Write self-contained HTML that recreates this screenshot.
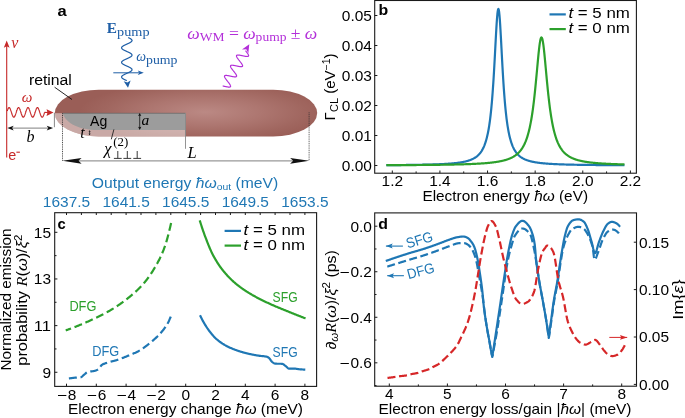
<!DOCTYPE html>
<html><head><meta charset="utf-8"><style>
html,body{margin:0;padding:0;background:#fff;}
svg{display:block;will-change:transform;}
</style></head><body>
<svg width="685" height="418" viewBox="0 0 685 418">
<rect width="685" height="418" fill="#fff"/>
<path d="M386.35 165.14 L386.69 165.14 L387.03 165.14 L387.37 165.14 L387.71 165.13 L388.05 165.13 L388.39 165.13 L388.73 165.13 L389.07 165.12 L389.41 165.12 L389.75 165.12 L390.09 165.12 L390.44 165.12 L390.78 165.11 L391.12 165.11 L391.46 165.11 L391.8 165.11 L392.14 165.1 L392.48 165.1 L392.82 165.1 L393.16 165.1 L393.5 165.09 L393.84 165.09 L394.18 165.09 L394.52 165.08 L394.86 165.08 L395.2 165.08 L395.54 165.08 L395.89 165.07 L396.23 165.07 L396.57 165.07 L396.91 165.06 L397.25 165.06 L397.59 165.06 L397.93 165.06 L398.27 165.05 L398.61 165.05 L398.95 165.05 L399.29 165.04 L399.63 165.04 L399.97 165.04 L400.31 165.03 L400.65 165.03 L400.99 165.03 L401.34 165.02 L401.68 165.02 L402.02 165.02 L402.36 165.01 L402.7 165.01 L403.04 165.01 L403.38 165 L403.72 165 L404.06 165 L404.4 164.99 L404.74 164.99 L405.08 164.99 L405.42 164.98 L405.76 164.98 L406.1 164.97 L406.44 164.97 L406.79 164.97 L407.13 164.96 L407.47 164.96 L407.81 164.95 L408.15 164.95 L408.49 164.95 L408.83 164.94 L409.17 164.94 L409.51 164.93 L409.85 164.93 L410.19 164.92 L410.53 164.92 L410.87 164.92 L411.21 164.91 L411.55 164.91 L411.89 164.9 L412.24 164.9 L412.58 164.89 L412.92 164.89 L413.26 164.88 L413.6 164.88 L413.94 164.87 L414.28 164.87 L414.62 164.86 L414.96 164.86 L415.3 164.85 L415.64 164.85 L415.98 164.84 L416.32 164.84 L416.66 164.83 L417 164.82 L417.34 164.82 L417.69 164.81 L418.03 164.81 L418.37 164.8 L418.71 164.8 L419.05 164.79 L419.39 164.78 L419.73 164.78 L420.07 164.77 L420.41 164.76 L420.75 164.76 L421.09 164.75 L421.43 164.74 L421.77 164.74 L422.11 164.73 L422.45 164.72 L422.79 164.72 L423.14 164.71 L423.48 164.7 L423.82 164.7 L424.16 164.69 L424.5 164.68 L424.84 164.67 L425.18 164.67 L425.52 164.66 L425.86 164.65 L426.2 164.64 L426.54 164.63 L426.88 164.63 L427.22 164.62 L427.56 164.61 L427.9 164.6 L428.24 164.59 L428.59 164.58 L428.93 164.57 L429.27 164.56 L429.61 164.56 L429.95 164.55 L430.29 164.54 L430.63 164.53 L430.97 164.52 L431.31 164.51 L431.65 164.5 L431.99 164.49 L432.33 164.48 L432.67 164.47 L433.01 164.45 L433.35 164.44 L433.69 164.43 L434.04 164.42 L434.38 164.41 L434.72 164.4 L435.06 164.39 L435.4 164.37 L435.74 164.36 L436.08 164.35 L436.42 164.34 L436.76 164.32 L437.1 164.31 L437.44 164.3 L437.78 164.29 L438.12 164.27 L438.46 164.26 L438.8 164.24 L439.15 164.23 L439.49 164.21 L439.83 164.2 L440.17 164.18 L440.51 164.17 L440.85 164.15 L441.19 164.14 L441.53 164.12 L441.87 164.1 L442.21 164.09 L442.55 164.07 L442.89 164.05 L443.23 164.04 L443.57 164.02 L443.91 164 L444.25 163.98 L444.6 163.96 L444.94 163.94 L445.28 163.92 L445.62 163.9 L445.96 163.88 L446.3 163.86 L446.64 163.84 L446.98 163.82 L447.32 163.79 L447.66 163.77 L448 163.75 L448.34 163.72 L448.68 163.7 L449.02 163.68 L449.36 163.65 L449.7 163.63 L450.05 163.6 L450.39 163.57 L450.73 163.54 L451.07 163.52 L451.41 163.49 L451.75 163.46 L452.09 163.43 L452.43 163.4 L452.77 163.37 L453.11 163.34 L453.45 163.3 L453.79 163.27 L454.13 163.24 L454.47 163.2 L454.81 163.17 L455.15 163.13 L455.5 163.09 L455.84 163.05 L456.18 163.02 L456.52 162.98 L456.86 162.94 L457.2 162.89 L457.54 162.85 L457.88 162.81 L458.22 162.76 L458.56 162.71 L458.9 162.67 L459.24 162.62 L459.58 162.57 L459.92 162.52 L460.26 162.47 L460.6 162.41 L460.95 162.36 L461.29 162.3 L461.63 162.24 L461.97 162.18 L462.31 162.12 L462.65 162.06 L462.99 161.99 L463.33 161.92 L463.67 161.85 L464.01 161.78 L464.35 161.71 L464.69 161.64 L465.03 161.56 L465.37 161.48 L465.71 161.4 L466.05 161.31 L466.4 161.22 L466.74 161.13 L467.08 161.04 L467.42 160.95 L467.76 160.85 L468.1 160.75 L468.44 160.64 L468.78 160.53 L469.12 160.42 L469.46 160.3 L469.8 160.18 L470.14 160.06 L470.48 159.93 L470.82 159.79 L471.16 159.66 L471.5 159.51 L471.85 159.36 L472.19 159.21 L472.53 159.05 L472.87 158.88 L473.21 158.71 L473.55 158.53 L473.89 158.35 L474.23 158.15 L474.57 157.95 L474.91 157.74 L475.25 157.52 L475.59 157.29 L475.93 157.06 L476.27 156.81 L476.61 156.55 L476.95 156.28 L477.3 156 L477.64 155.7 L477.98 155.39 L478.32 155.07 L478.66 154.73 L479 154.38 L479.34 154.01 L479.68 153.61 L480.02 153.2 L480.36 152.77 L480.7 152.32 L481.04 151.84 L481.38 151.34 L481.72 150.81 L482.06 150.25 L482.41 149.66 L482.75 149.03 L483.09 148.37 L483.43 147.67 L483.77 146.93 L484.11 146.14 L484.45 145.31 L484.79 144.42 L485.13 143.48 L485.47 142.47 L485.81 141.4 L486.15 140.26 L486.49 139.04 L486.83 137.74 L487.17 136.34 L487.51 134.85 L487.86 133.24 L488.2 131.53 L488.54 129.68 L488.88 127.7 L489.22 125.56 L489.56 123.26 L489.9 120.79 L490.24 118.12 L490.58 115.25 L490.92 112.15 L491.26 108.81 L491.6 105.22 L491.94 101.35 L492.28 97.19 L492.62 92.73 L492.96 87.95 L493.31 82.86 L493.65 77.46 L493.99 71.76 L494.33 65.79 L494.67 59.58 L495.01 53.21 L495.35 46.75 L495.69 40.32 L496.03 34.05 L496.37 28.1 L496.71 22.65 L497.05 17.88 L497.39 13.98 L497.73 11.1 L498.07 9.39 L498.41 8.91 L498.76 9.69 L499.1 11.7 L499.44 14.83 L499.78 18.96 L500.12 23.91 L500.46 29.5 L500.8 35.54 L501.14 41.86 L501.48 48.31 L501.82 54.76 L502.16 61.1 L502.5 67.25 L502.84 73.16 L503.18 78.79 L503.52 84.12 L503.86 89.13 L504.21 93.83 L504.55 98.22 L504.89 102.3 L505.23 106.11 L505.57 109.64 L505.91 112.92 L506.25 115.96 L506.59 118.78 L506.93 121.4 L507.27 123.83 L507.61 126.09 L507.95 128.19 L508.29 130.14 L508.63 131.95 L508.97 133.64 L509.31 135.22 L509.66 136.69 L510 138.06 L510.34 139.34 L510.68 140.54 L511.02 141.67 L511.36 142.72 L511.7 143.71 L512.04 144.64 L512.38 145.52 L512.72 146.34 L513.06 147.11 L513.4 147.84 L513.74 148.53 L514.08 149.19 L514.42 149.8 L514.76 150.39 L515.11 150.94 L515.45 151.46 L515.79 151.96 L516.13 152.43 L516.47 152.88 L516.81 153.31 L517.15 153.71 L517.49 154.1 L517.83 154.46 L518.17 154.82 L518.51 155.15 L518.85 155.47 L519.19 155.77 L519.53 156.07 L519.87 156.35 L520.21 156.61 L520.56 156.87 L520.9 157.11 L521.24 157.35 L521.58 157.57 L521.92 157.79 L522.26 158 L522.6 158.2 L522.94 158.39 L523.28 158.58 L523.62 158.75 L523.96 158.92 L524.3 159.09 L524.64 159.25 L524.98 159.4 L525.32 159.55 L525.66 159.69 L526.01 159.83 L526.35 159.96 L526.69 160.09 L527.03 160.21 L527.37 160.33 L527.71 160.45 L528.05 160.56 L528.39 160.67 L528.73 160.77 L529.07 160.87 L529.41 160.97 L529.75 161.06 L530.09 161.16 L530.43 161.25 L530.77 161.33 L531.12 161.42 L531.46 161.5 L531.8 161.58 L532.14 161.65 L532.48 161.73 L532.82 161.8 L533.16 161.87 L533.5 161.94 L533.84 162.01 L534.18 162.07 L534.52 162.13 L534.86 162.2 L535.2 162.26 L535.54 162.31 L535.88 162.37 L536.22 162.42 L536.57 162.48 L536.91 162.53 L537.25 162.58 L537.59 162.63 L537.93 162.68 L538.27 162.73 L538.61 162.77 L538.95 162.82 L539.29 162.86 L539.63 162.9 L539.97 162.95 L540.31 162.99 L540.65 163.03 L540.99 163.06 L541.33 163.1 L541.67 163.14 L542.02 163.18 L542.36 163.21 L542.7 163.25 L543.04 163.28 L543.38 163.31 L543.72 163.34 L544.06 163.38 L544.4 163.41 L544.74 163.44 L545.08 163.47 L545.42 163.5 L545.76 163.52 L546.1 163.55 L546.44 163.58 L546.78 163.61 L547.12 163.63 L547.47 163.66 L547.81 163.68 L548.15 163.71 L548.49 163.73 L548.83 163.75 L549.17 163.78 L549.51 163.8 L549.85 163.82 L550.19 163.84 L550.53 163.87 L550.87 163.89 L551.21 163.91 L551.55 163.93 L551.89 163.95 L552.23 163.97 L552.57 163.98 L552.92 164 L553.26 164.02 L553.6 164.04 L553.94 164.06 L554.28 164.07 L554.62 164.09 L554.96 164.11 L555.3 164.13 L555.64 164.14 L555.98 164.16 L556.32 164.17 L556.66 164.19 L557 164.2 L557.34 164.22 L557.68 164.23 L558.02 164.25 L558.37 164.26 L558.71 164.27 L559.05 164.29 L559.39 164.3 L559.73 164.32 L560.07 164.33 L560.41 164.34 L560.75 164.35 L561.09 164.37 L561.43 164.38 L561.77 164.39 L562.11 164.4 L562.45 164.41 L562.79 164.42 L563.13 164.44 L563.47 164.45 L563.82 164.46 L564.16 164.47 L564.5 164.48 L564.84 164.49 L565.18 164.5 L565.52 164.51 L565.86 164.52 L566.2 164.53 L566.54 164.54 L566.88 164.55 L567.22 164.56 L567.56 164.57 L567.9 164.58 L568.24 164.58 L568.58 164.59 L568.92 164.6 L569.27 164.61 L569.61 164.62 L569.95 164.63 L570.29 164.64 L570.63 164.64 L570.97 164.65 L571.31 164.66 L571.65 164.67 L571.99 164.68 L572.33 164.68 L572.67 164.69 L573.01 164.7 L573.35 164.7 L573.69 164.71 L574.03 164.72 L574.37 164.73 L574.72 164.73 L575.06 164.74 L575.4 164.75 L575.74 164.75 L576.08 164.76 L576.42 164.77 L576.76 164.77 L577.1 164.78 L577.44 164.78 L577.78 164.79 L578.12 164.8 L578.46 164.8 L578.8 164.81 L579.14 164.81 L579.48 164.82 L579.83 164.83 L580.17 164.83 L580.51 164.84 L580.85 164.84 L581.19 164.85 L581.53 164.85 L581.87 164.86 L582.21 164.86 L582.55 164.87 L582.89 164.87 L583.23 164.88 L583.57 164.88 L583.91 164.89 L584.25 164.89 L584.59 164.9 L584.93 164.9 L585.28 164.91 L585.62 164.91 L585.96 164.92 L586.3 164.92 L586.64 164.93 L586.98 164.93 L587.32 164.93 L587.66 164.94 L588 164.94 L588.34 164.95 L588.68 164.95 L589.02 164.95 L589.36 164.96 L589.7 164.96 L590.04 164.97 L590.38 164.97 L590.73 164.97 L591.07 164.98 L591.41 164.98 L591.75 164.99 L592.09 164.99 L592.43 164.99 L592.77 165 L593.11 165 L593.45 165 L593.79 165.01 L594.13 165.01 L594.47 165.01 L594.81 165.02 L595.15 165.02 L595.49 165.02 L595.83 165.03 L596.18 165.03 L596.52 165.03 L596.86 165.04 L597.2 165.04 L597.54 165.04 L597.88 165.05 L598.22 165.05 L598.56 165.05 L598.9 165.06 L599.24 165.06 L599.58 165.06 L599.92 165.07 L600.26 165.07 L600.6 165.07 L600.94 165.07 L601.28 165.08 L601.63 165.08 L601.97 165.08 L602.31 165.09 L602.65 165.09 L602.99 165.09 L603.33 165.09 L603.67 165.1 L604.01 165.1 L604.35 165.1 L604.69 165.1 L605.03 165.11 L605.37 165.11 L605.71 165.11 L606.05 165.11 L606.39 165.12 L606.73 165.12 L607.08 165.12 L607.42 165.12 L607.76 165.13 L608.1 165.13 L608.44 165.13 L608.78 165.13 L609.12 165.13 L609.46 165.14 L609.8 165.14 L610.14 165.14 L610.48 165.14 L610.82 165.15 L611.16 165.15 L611.5 165.15 L611.84 165.15 L612.18 165.15 L612.53 165.16 L612.87 165.16 L613.21 165.16 L613.55 165.16 L613.89 165.16 L614.23 165.17 L614.57 165.17 L614.91 165.17 L615.25 165.17 L615.59 165.17 L615.93 165.18 L616.27 165.18 L616.61 165.18 L616.95 165.18 L617.29 165.18 L617.63 165.18 L617.98 165.19 L618.32 165.19 L618.66 165.19 L619 165.19 L619.34 165.19 L619.68 165.2 L620.02 165.2 L620.36 165.2 L620.7 165.2 L621.04 165.2 L621.38 165.2 L621.72 165.21 L622.06 165.21 L622.4 165.21 L622.74 165.21 L623.08 165.21 L623.43 165.21 L623.77 165.21 L624.11 165.22 L624.45 165.22" fill="none" stroke="#1f77b4" stroke-width="2.2" stroke-linejoin="round"/>
<path d="M386.35 165.19 L386.69 165.19 L387.03 165.19 L387.37 165.19 L387.71 165.19 L388.05 165.18 L388.39 165.18 L388.73 165.18 L389.07 165.18 L389.41 165.18 L389.75 165.18 L390.09 165.18 L390.44 165.17 L390.78 165.17 L391.12 165.17 L391.46 165.17 L391.8 165.17 L392.14 165.17 L392.48 165.17 L392.82 165.16 L393.16 165.16 L393.5 165.16 L393.84 165.16 L394.18 165.16 L394.52 165.16 L394.86 165.15 L395.2 165.15 L395.54 165.15 L395.89 165.15 L396.23 165.15 L396.57 165.15 L396.91 165.15 L397.25 165.14 L397.59 165.14 L397.93 165.14 L398.27 165.14 L398.61 165.14 L398.95 165.13 L399.29 165.13 L399.63 165.13 L399.97 165.13 L400.31 165.13 L400.65 165.13 L400.99 165.12 L401.34 165.12 L401.68 165.12 L402.02 165.12 L402.36 165.12 L402.7 165.12 L403.04 165.11 L403.38 165.11 L403.72 165.11 L404.06 165.11 L404.4 165.11 L404.74 165.1 L405.08 165.1 L405.42 165.1 L405.76 165.1 L406.1 165.1 L406.44 165.09 L406.79 165.09 L407.13 165.09 L407.47 165.09 L407.81 165.09 L408.15 165.08 L408.49 165.08 L408.83 165.08 L409.17 165.08 L409.51 165.07 L409.85 165.07 L410.19 165.07 L410.53 165.07 L410.87 165.07 L411.21 165.06 L411.55 165.06 L411.89 165.06 L412.24 165.06 L412.58 165.05 L412.92 165.05 L413.26 165.05 L413.6 165.05 L413.94 165.04 L414.28 165.04 L414.62 165.04 L414.96 165.04 L415.3 165.03 L415.64 165.03 L415.98 165.03 L416.32 165.03 L416.66 165.02 L417 165.02 L417.34 165.02 L417.69 165.02 L418.03 165.01 L418.37 165.01 L418.71 165.01 L419.05 165.01 L419.39 165 L419.73 165 L420.07 165 L420.41 164.99 L420.75 164.99 L421.09 164.99 L421.43 164.99 L421.77 164.98 L422.11 164.98 L422.45 164.98 L422.79 164.97 L423.14 164.97 L423.48 164.97 L423.82 164.97 L424.16 164.96 L424.5 164.96 L424.84 164.96 L425.18 164.95 L425.52 164.95 L425.86 164.95 L426.2 164.94 L426.54 164.94 L426.88 164.94 L427.22 164.93 L427.56 164.93 L427.9 164.93 L428.24 164.92 L428.59 164.92 L428.93 164.92 L429.27 164.91 L429.61 164.91 L429.95 164.9 L430.29 164.9 L430.63 164.9 L430.97 164.89 L431.31 164.89 L431.65 164.89 L431.99 164.88 L432.33 164.88 L432.67 164.87 L433.01 164.87 L433.35 164.87 L433.69 164.86 L434.04 164.86 L434.38 164.85 L434.72 164.85 L435.06 164.85 L435.4 164.84 L435.74 164.84 L436.08 164.83 L436.42 164.83 L436.76 164.83 L437.1 164.82 L437.44 164.82 L437.78 164.81 L438.12 164.81 L438.46 164.8 L438.8 164.8 L439.15 164.79 L439.49 164.79 L439.83 164.78 L440.17 164.78 L440.51 164.77 L440.85 164.77 L441.19 164.76 L441.53 164.76 L441.87 164.75 L442.21 164.75 L442.55 164.74 L442.89 164.74 L443.23 164.73 L443.57 164.73 L443.91 164.72 L444.25 164.72 L444.6 164.71 L444.94 164.71 L445.28 164.7 L445.62 164.7 L445.96 164.69 L446.3 164.68 L446.64 164.68 L446.98 164.67 L447.32 164.67 L447.66 164.66 L448 164.65 L448.34 164.65 L448.68 164.64 L449.02 164.64 L449.36 164.63 L449.7 164.62 L450.05 164.62 L450.39 164.61 L450.73 164.6 L451.07 164.6 L451.41 164.59 L451.75 164.58 L452.09 164.58 L452.43 164.57 L452.77 164.56 L453.11 164.55 L453.45 164.55 L453.79 164.54 L454.13 164.53 L454.47 164.52 L454.81 164.52 L455.15 164.51 L455.5 164.5 L455.84 164.49 L456.18 164.49 L456.52 164.48 L456.86 164.47 L457.2 164.46 L457.54 164.45 L457.88 164.44 L458.22 164.44 L458.56 164.43 L458.9 164.42 L459.24 164.41 L459.58 164.4 L459.92 164.39 L460.26 164.38 L460.6 164.37 L460.95 164.36 L461.29 164.35 L461.63 164.34 L461.97 164.33 L462.31 164.32 L462.65 164.31 L462.99 164.3 L463.33 164.29 L463.67 164.28 L464.01 164.27 L464.35 164.26 L464.69 164.25 L465.03 164.24 L465.37 164.23 L465.71 164.22 L466.05 164.21 L466.4 164.19 L466.74 164.18 L467.08 164.17 L467.42 164.16 L467.76 164.15 L468.1 164.13 L468.44 164.12 L468.78 164.11 L469.12 164.09 L469.46 164.08 L469.8 164.07 L470.14 164.05 L470.48 164.04 L470.82 164.03 L471.16 164.01 L471.5 164 L471.85 163.98 L472.19 163.97 L472.53 163.95 L472.87 163.94 L473.21 163.92 L473.55 163.91 L473.89 163.89 L474.23 163.88 L474.57 163.86 L474.91 163.84 L475.25 163.83 L475.59 163.81 L475.93 163.79 L476.27 163.77 L476.61 163.76 L476.95 163.74 L477.3 163.72 L477.64 163.7 L477.98 163.68 L478.32 163.66 L478.66 163.64 L479 163.62 L479.34 163.6 L479.68 163.58 L480.02 163.56 L480.36 163.54 L480.7 163.52 L481.04 163.5 L481.38 163.47 L481.72 163.45 L482.06 163.43 L482.41 163.4 L482.75 163.38 L483.09 163.35 L483.43 163.33 L483.77 163.3 L484.11 163.28 L484.45 163.25 L484.79 163.23 L485.13 163.2 L485.47 163.17 L485.81 163.14 L486.15 163.12 L486.49 163.09 L486.83 163.06 L487.17 163.03 L487.51 163 L487.86 162.96 L488.2 162.93 L488.54 162.9 L488.88 162.87 L489.22 162.83 L489.56 162.8 L489.9 162.76 L490.24 162.73 L490.58 162.69 L490.92 162.65 L491.26 162.62 L491.6 162.58 L491.94 162.54 L492.28 162.5 L492.62 162.46 L492.96 162.42 L493.31 162.37 L493.65 162.33 L493.99 162.28 L494.33 162.24 L494.67 162.19 L495.01 162.15 L495.35 162.1 L495.69 162.05 L496.03 162 L496.37 161.95 L496.71 161.89 L497.05 161.84 L497.39 161.78 L497.73 161.73 L498.07 161.67 L498.41 161.61 L498.76 161.55 L499.1 161.49 L499.44 161.42 L499.78 161.36 L500.12 161.29 L500.46 161.23 L500.8 161.16 L501.14 161.09 L501.48 161.01 L501.82 160.94 L502.16 160.86 L502.5 160.78 L502.84 160.7 L503.18 160.62 L503.52 160.54 L503.86 160.45 L504.21 160.36 L504.55 160.27 L504.89 160.17 L505.23 160.08 L505.57 159.98 L505.91 159.88 L506.25 159.77 L506.59 159.67 L506.93 159.56 L507.27 159.44 L507.61 159.33 L507.95 159.21 L508.29 159.08 L508.63 158.96 L508.97 158.82 L509.31 158.69 L509.66 158.55 L510 158.41 L510.34 158.26 L510.68 158.11 L511.02 157.95 L511.36 157.79 L511.7 157.63 L512.04 157.45 L512.38 157.28 L512.72 157.09 L513.06 156.9 L513.4 156.71 L513.74 156.51 L514.08 156.3 L514.42 156.08 L514.76 155.86 L515.11 155.63 L515.45 155.39 L515.79 155.14 L516.13 154.88 L516.47 154.61 L516.81 154.34 L517.15 154.05 L517.49 153.75 L517.83 153.44 L518.17 153.12 L518.51 152.79 L518.85 152.44 L519.19 152.08 L519.53 151.71 L519.87 151.32 L520.21 150.91 L520.56 150.49 L520.9 150.05 L521.24 149.59 L521.58 149.11 L521.92 148.61 L522.26 148.09 L522.6 147.54 L522.94 146.97 L523.28 146.38 L523.62 145.75 L523.96 145.1 L524.3 144.42 L524.64 143.7 L524.98 142.95 L525.32 142.17 L525.66 141.34 L526.01 140.48 L526.35 139.57 L526.69 138.61 L527.03 137.61 L527.37 136.55 L527.71 135.44 L528.05 134.27 L528.39 133.04 L528.73 131.75 L529.07 130.38 L529.41 128.95 L529.75 127.43 L530.09 125.83 L530.43 124.15 L530.77 122.38 L531.12 120.5 L531.46 118.53 L531.8 116.46 L532.14 114.27 L532.48 111.97 L532.82 109.54 L533.16 107 L533.5 104.33 L533.84 101.54 L534.18 98.61 L534.52 95.56 L534.86 92.39 L535.2 89.09 L535.54 85.69 L535.88 82.18 L536.22 78.59 L536.57 74.93 L536.91 71.23 L537.25 67.51 L537.59 63.81 L537.93 60.16 L538.27 56.62 L538.61 53.23 L538.95 50.03 L539.29 47.09 L539.63 44.45 L539.97 42.17 L540.31 40.29 L540.65 38.86 L540.99 37.9 L541.33 37.44 L541.67 37.49 L542.02 38.05 L542.36 39.11 L542.7 40.64 L543.04 42.6 L543.38 44.96 L543.72 47.66 L544.06 50.66 L544.4 53.9 L544.74 57.33 L545.08 60.9 L545.42 64.56 L545.76 68.26 L546.1 71.98 L546.44 75.68 L546.78 79.32 L547.12 82.9 L547.47 86.39 L547.81 89.77 L548.15 93.04 L548.49 96.19 L548.83 99.22 L549.17 102.12 L549.51 104.88 L549.85 107.53 L550.19 110.05 L550.53 112.44 L550.87 114.72 L551.21 116.89 L551.55 118.94 L551.89 120.89 L552.23 122.74 L552.57 124.5 L552.92 126.17 L553.26 127.75 L553.6 129.24 L553.94 130.67 L554.28 132.02 L554.62 133.3 L554.96 134.52 L555.3 135.67 L555.64 136.77 L555.98 137.82 L556.32 138.81 L556.66 139.76 L557 140.66 L557.34 141.51 L557.68 142.33 L558.02 143.11 L558.37 143.85 L558.71 144.56 L559.05 145.24 L559.39 145.88 L559.73 146.5 L560.07 147.09 L560.41 147.66 L560.75 148.2 L561.09 148.71 L561.43 149.21 L561.77 149.69 L562.11 150.14 L562.45 150.58 L562.79 151 L563.13 151.4 L563.47 151.79 L563.82 152.16 L564.16 152.52 L564.5 152.86 L564.84 153.19 L565.18 153.51 L565.52 153.81 L565.86 154.11 L566.2 154.39 L566.54 154.67 L566.88 154.93 L567.22 155.19 L567.56 155.44 L567.9 155.67 L568.24 155.9 L568.58 156.13 L568.92 156.34 L569.27 156.55 L569.61 156.75 L569.95 156.94 L570.29 157.13 L570.63 157.31 L570.97 157.49 L571.31 157.66 L571.65 157.82 L571.99 157.99 L572.33 158.14 L572.67 158.29 L573.01 158.44 L573.35 158.58 L573.69 158.72 L574.03 158.85 L574.37 158.98 L574.72 159.11 L575.06 159.23 L575.4 159.35 L575.74 159.47 L576.08 159.58 L576.42 159.69 L576.76 159.79 L577.1 159.9 L577.44 160 L577.78 160.1 L578.12 160.19 L578.46 160.29 L578.8 160.38 L579.14 160.47 L579.48 160.55 L579.83 160.64 L580.17 160.72 L580.51 160.8 L580.85 160.88 L581.19 160.95 L581.53 161.03 L581.87 161.1 L582.21 161.17 L582.55 161.24 L582.89 161.31 L583.23 161.37 L583.57 161.44 L583.91 161.5 L584.25 161.56 L584.59 161.62 L584.93 161.68 L585.28 161.74 L585.62 161.79 L585.96 161.85 L586.3 161.9 L586.64 161.96 L586.98 162.01 L587.32 162.06 L587.66 162.11 L588 162.15 L588.34 162.2 L588.68 162.25 L589.02 162.29 L589.36 162.34 L589.7 162.38 L590.04 162.42 L590.38 162.47 L590.73 162.51 L591.07 162.55 L591.41 162.59 L591.75 162.62 L592.09 162.66 L592.43 162.7 L592.77 162.74 L593.11 162.77 L593.45 162.81 L593.79 162.84 L594.13 162.87 L594.47 162.91 L594.81 162.94 L595.15 162.97 L595.49 163 L595.83 163.03 L596.18 163.06 L596.52 163.09 L596.86 163.12 L597.2 163.15 L597.54 163.18 L597.88 163.2 L598.22 163.23 L598.56 163.26 L598.9 163.28 L599.24 163.31 L599.58 163.34 L599.92 163.36 L600.26 163.38 L600.6 163.41 L600.94 163.43 L601.28 163.45 L601.63 163.48 L601.97 163.5 L602.31 163.52 L602.65 163.54 L602.99 163.56 L603.33 163.59 L603.67 163.61 L604.01 163.63 L604.35 163.65 L604.69 163.67 L605.03 163.69 L605.37 163.7 L605.71 163.72 L606.05 163.74 L606.39 163.76 L606.73 163.78 L607.08 163.8 L607.42 163.81 L607.76 163.83 L608.1 163.85 L608.44 163.86 L608.78 163.88 L609.12 163.9 L609.46 163.91 L609.8 163.93 L610.14 163.94 L610.48 163.96 L610.82 163.97 L611.16 163.99 L611.5 164 L611.84 164.02 L612.18 164.03 L612.53 164.04 L612.87 164.06 L613.21 164.07 L613.55 164.08 L613.89 164.1 L614.23 164.11 L614.57 164.12 L614.91 164.14 L615.25 164.15 L615.59 164.16 L615.93 164.17 L616.27 164.18 L616.61 164.2 L616.95 164.21 L617.29 164.22 L617.63 164.23 L617.98 164.24 L618.32 164.25 L618.66 164.26 L619 164.27 L619.34 164.29 L619.68 164.3 L620.02 164.31 L620.36 164.32 L620.7 164.33 L621.04 164.34 L621.38 164.35 L621.72 164.36 L622.06 164.37 L622.4 164.37 L622.74 164.38 L623.08 164.39 L623.43 164.4 L623.77 164.41 L624.11 164.42 L624.45 164.43" fill="none" stroke="#2ca02c" stroke-width="2.2" stroke-linejoin="round"/>
<rect x="374.7" y="0.5" width="261.7" height="172.7" fill="none" stroke="#1a1a1a" stroke-width="1.1"/>
<line x1="374.7" y1="165.5" x2="377.4" y2="165.5" stroke="#1a1a1a" stroke-width="1"/>
<text x="371.9" y="170.8" font-size="14.4" fill="#000" text-anchor="end" font-family="Liberation Sans" textLength="30.1" lengthAdjust="spacingAndGlyphs">0.00</text>
<line x1="374.7" y1="135.5" x2="377.4" y2="135.5" stroke="#1a1a1a" stroke-width="1"/>
<text x="371.9" y="140.8" font-size="14.4" fill="#000" text-anchor="end" font-family="Liberation Sans" textLength="30.1" lengthAdjust="spacingAndGlyphs">0.01</text>
<line x1="374.7" y1="105.5" x2="377.4" y2="105.5" stroke="#1a1a1a" stroke-width="1"/>
<text x="371.9" y="110.8" font-size="14.4" fill="#000" text-anchor="end" font-family="Liberation Sans" textLength="30.1" lengthAdjust="spacingAndGlyphs">0.02</text>
<line x1="374.7" y1="75.5" x2="377.4" y2="75.5" stroke="#1a1a1a" stroke-width="1"/>
<text x="371.9" y="80.8" font-size="14.4" fill="#000" text-anchor="end" font-family="Liberation Sans" textLength="30.1" lengthAdjust="spacingAndGlyphs">0.03</text>
<line x1="374.7" y1="45.5" x2="377.4" y2="45.5" stroke="#1a1a1a" stroke-width="1"/>
<text x="371.9" y="50.8" font-size="14.4" fill="#000" text-anchor="end" font-family="Liberation Sans" textLength="30.1" lengthAdjust="spacingAndGlyphs">0.04</text>
<line x1="374.7" y1="15.5" x2="377.4" y2="15.5" stroke="#1a1a1a" stroke-width="1"/>
<text x="371.9" y="20.8" font-size="14.4" fill="#000" text-anchor="end" font-family="Liberation Sans" textLength="30.1" lengthAdjust="spacingAndGlyphs">0.05</text>
<line x1="392.3" y1="173.2" x2="392.3" y2="170.5" stroke="#1a1a1a" stroke-width="1"/>
<text x="392.3" y="186.3" font-size="14.4" fill="#000" text-anchor="middle" font-family="Liberation Sans" textLength="21.5" lengthAdjust="spacingAndGlyphs">1.2</text>
<line x1="416.11" y1="173.2" x2="416.11" y2="171.4" stroke="#1a1a1a" stroke-width="1"/>
<line x1="439.92" y1="173.2" x2="439.92" y2="170.5" stroke="#1a1a1a" stroke-width="1"/>
<text x="439.92" y="186.3" font-size="14.4" fill="#000" text-anchor="middle" font-family="Liberation Sans" textLength="21.5" lengthAdjust="spacingAndGlyphs">1.4</text>
<line x1="463.73" y1="173.2" x2="463.73" y2="171.4" stroke="#1a1a1a" stroke-width="1"/>
<line x1="487.54" y1="173.2" x2="487.54" y2="170.5" stroke="#1a1a1a" stroke-width="1"/>
<text x="487.54" y="186.3" font-size="14.4" fill="#000" text-anchor="middle" font-family="Liberation Sans" textLength="21.5" lengthAdjust="spacingAndGlyphs">1.6</text>
<line x1="511.35" y1="173.2" x2="511.35" y2="171.4" stroke="#1a1a1a" stroke-width="1"/>
<line x1="535.16" y1="173.2" x2="535.16" y2="170.5" stroke="#1a1a1a" stroke-width="1"/>
<text x="535.16" y="186.3" font-size="14.4" fill="#000" text-anchor="middle" font-family="Liberation Sans" textLength="21.5" lengthAdjust="spacingAndGlyphs">1.8</text>
<line x1="558.97" y1="173.2" x2="558.97" y2="171.4" stroke="#1a1a1a" stroke-width="1"/>
<line x1="582.78" y1="173.2" x2="582.78" y2="170.5" stroke="#1a1a1a" stroke-width="1"/>
<text x="582.78" y="186.3" font-size="14.4" fill="#000" text-anchor="middle" font-family="Liberation Sans" textLength="21.5" lengthAdjust="spacingAndGlyphs">2.0</text>
<line x1="606.59" y1="173.2" x2="606.59" y2="171.4" stroke="#1a1a1a" stroke-width="1"/>
<line x1="630.4" y1="173.2" x2="630.4" y2="170.5" stroke="#1a1a1a" stroke-width="1"/>
<text x="630.4" y="186.3" font-size="14.4" fill="#000" text-anchor="middle" font-family="Liberation Sans" textLength="21.5" lengthAdjust="spacingAndGlyphs">2.2</text>
<text x="505.2" y="201" font-size="14.4" fill="#000" text-anchor="middle" font-family="Liberation Sans" textLength="165.6" lengthAdjust="spacingAndGlyphs">Electron energy <tspan font-style="italic">ħω</tspan> (eV)</text>
<line x1="549.5" y1="14.4" x2="565.8" y2="14.4" stroke="#1f77b4" stroke-width="2.2"/>
<line x1="549.5" y1="29.1" x2="565.8" y2="29.1" stroke="#2ca02c" stroke-width="2.2"/>
<text x="568.4" y="18.3" font-size="14.4" fill="#000" text-anchor="start" font-family="Liberation Sans" textLength="61.5" lengthAdjust="spacingAndGlyphs"><tspan font-style="italic">t</tspan> = 5 nm</text>
<text x="568.4" y="33" font-size="14.4" fill="#000" text-anchor="start" font-family="Liberation Sans" textLength="61.5" lengthAdjust="spacingAndGlyphs"><tspan font-style="italic">t</tspan> = 0 nm</text>
<text x="378.5" y="15.4" font-size="14.4" fill="#000" text-anchor="start" font-family="Liberation Sans" textLength="9.7" lengthAdjust="spacingAndGlyphs" font-weight="bold">b</text>
<g transform="translate(335.4,86.9) rotate(-90)">
<text x="0" y="0" font-size="14.4" fill="#000" text-anchor="middle" font-family="Liberation Sans" textLength="67" lengthAdjust="spacingAndGlyphs">Γ<tspan font-size="10.6" dy="2.7">CL</tspan><tspan dy="-2.7"> (eV</tspan><tspan font-size="10" dy="-5.5">−1</tspan><tspan dy="5.5">)</tspan></text>
</g>
<path d="M65.7 330.4 L66.2 330.23 L66.7 330.05 L67.2 329.87 L67.7 329.69 L68.2 329.51 L68.7 329.33 L69.2 329.15 L69.7 328.97 L70.2 328.78 L70.7 328.6 L71.2 328.41 L71.7 328.22 L72.2 328.03 L72.7 327.84 L73.2 327.65 L73.7 327.46 L74.2 327.26 L74.7 327.07 L75.2 326.87 L75.7 326.68 L76.2 326.48 L76.7 326.28 L77.2 326.08 L77.7 325.88 L78.2 325.67 L78.7 325.47 L79.2 325.27 L79.7 325.06 L80.2 324.85 L80.7 324.65 L81.2 324.44 L81.7 324.23 L82.2 324.02 L82.7 323.81 L83.2 323.59 L83.7 323.38 L84.2 323.17 L84.7 322.95 L85.2 322.74 L85.7 322.52 L86.2 322.3 L86.7 322.08 L87.2 321.86 L87.7 321.64 L88.2 321.42 L88.7 321.2 L89.2 320.98 L89.7 320.75 L90.2 320.53 L90.7 320.3 L91.2 320.08 L91.7 319.85 L92.2 319.62 L92.7 319.39 L93.2 319.16 L93.7 318.93 L94.2 318.7 L94.7 318.47 L95.2 318.23 L95.7 317.99 L96.2 317.76 L96.7 317.52 L97.2 317.28 L97.7 317.04 L98.2 316.79 L98.7 316.55 L99.2 316.3 L99.7 316.05 L100.2 315.8 L100.7 315.55 L101.2 315.3 L101.7 315.04 L102.2 314.78 L102.7 314.53 L103.2 314.26 L103.7 314 L104.2 313.74 L104.7 313.47 L105.2 313.2 L105.7 312.93 L106.2 312.66 L106.7 312.38 L107.2 312.1 L107.7 311.82 L108.2 311.54 L108.7 311.26 L109.2 310.97 L109.7 310.68 L110.2 310.39 L110.7 310.09 L111.2 309.8 L111.7 309.5 L112.2 309.19 L112.7 308.89 L113.2 308.58 L113.7 308.27 L114.2 307.95 L114.7 307.64 L115.2 307.32 L115.7 307 L116.2 306.67 L116.7 306.34 L117.2 306.01 L117.7 305.68 L118.2 305.34 L118.7 305 L119.2 304.66 L119.7 304.31 L120.2 303.97 L120.7 303.61 L121.2 303.26 L121.7 302.9 L122.2 302.54 L122.7 302.18 L123.2 301.81 L123.7 301.44 L124.2 301.07 L124.7 300.69 L125.2 300.31 L125.7 299.93 L126.2 299.55 L126.7 299.16 L127.2 298.77 L127.7 298.38 L128.2 297.98 L128.7 297.58 L129.2 297.18 L129.7 296.78 L130.2 296.37 L130.7 295.96 L131.2 295.55 L131.7 295.13 L132.2 294.71 L132.7 294.29 L133.2 293.86 L133.7 293.42 L134.2 292.98 L134.7 292.54 L135.2 292.09 L135.7 291.63 L136.2 291.17 L136.7 290.7 L137.2 290.23 L137.7 289.75 L138.2 289.27 L138.7 288.77 L139.2 288.27 L139.7 287.77 L140.2 287.25 L140.7 286.73 L141.2 286.21 L141.7 285.67 L142.2 285.13 L142.7 284.57 L143.2 284.01 L143.7 283.44 L144.2 282.86 L144.7 282.26 L145.2 281.66 L145.7 281.04 L146.2 280.4 L146.7 279.76 L147.2 279.1 L147.7 278.43 L148.2 277.75 L148.7 277.06 L149.2 276.35 L149.7 275.63 L150.2 274.9 L150.7 274.16 L151.2 273.4 L151.7 272.64 L152.2 271.86 L152.7 271.07 L153.2 270.26 L153.7 269.45 L154.2 268.62 L154.7 267.79 L155.2 266.94 L155.7 266.07 L156.2 265.2 L156.7 264.31 L157.2 263.42 L157.7 262.5 L158.2 261.57 L158.7 260.62 L159.2 259.65 L159.7 258.65 L160.2 257.63 L160.7 256.57 L161.2 255.49 L161.7 254.38 L162.2 253.23 L162.7 252.04 L163.2 250.81 L163.7 249.55 L164.2 248.23 L164.7 246.88 L165.2 245.46 L165.7 243.94 L166.2 242.34 L166.7 240.65 L167.2 238.88 L167.7 237.03 L168.2 235.12 L168.7 233.15 L169.2 231.12 L169.7 229.04 L170.2 226.92 L170.7 224.76 L171.1 223" fill="none" stroke="#2ca02c" stroke-width="2.2" stroke-linejoin="round" stroke-dasharray="8 3.81" stroke-dashoffset="2.4"/>
<path d="M199.7 220.3 L200.2 221.9 L200.7 223.47 L201.2 225.03 L201.7 226.57 L202.2 228.09 L202.7 229.58 L203.2 231.04 L203.7 232.48 L204.2 233.88 L204.7 235.26 L205.2 236.61 L205.7 237.92 L206.2 239.23 L206.7 240.52 L207.2 241.8 L207.7 243.07 L208.2 244.32 L208.7 245.55 L209.2 246.76 L209.7 247.95 L210.2 249.12 L210.7 250.25 L211.2 251.36 L211.7 252.43 L212.2 253.47 L212.7 254.47 L213.2 255.43 L213.7 256.35 L214.2 257.25 L214.7 258.14 L215.2 259.01 L215.7 259.86 L216.2 260.69 L216.7 261.51 L217.2 262.31 L217.7 263.09 L218.2 263.86 L218.7 264.62 L219.2 265.35 L219.7 266.08 L220.2 266.79 L220.7 267.48 L221.2 268.16 L221.7 268.83 L222.2 269.48 L222.7 270.12 L223.2 270.74 L223.7 271.36 L224.2 271.96 L224.7 272.55 L225.2 273.14 L225.7 273.71 L226.2 274.28 L226.7 274.84 L227.2 275.39 L227.7 275.93 L228.2 276.46 L228.7 276.99 L229.2 277.5 L229.7 278.01 L230.2 278.51 L230.7 279.01 L231.2 279.49 L231.7 279.97 L232.2 280.44 L232.7 280.91 L233.2 281.36 L233.7 281.82 L234.2 282.26 L234.7 282.69 L235.2 283.12 L235.7 283.55 L236.2 283.97 L236.7 284.38 L237.2 284.78 L237.7 285.18 L238.2 285.57 L238.7 285.96 L239.2 286.34 L239.7 286.72 L240.2 287.1 L240.7 287.46 L241.2 287.83 L241.7 288.19 L242.2 288.54 L242.7 288.89 L243.2 289.24 L243.7 289.58 L244.2 289.92 L244.7 290.26 L245.2 290.59 L245.7 290.91 L246.2 291.24 L246.7 291.56 L247.2 291.88 L247.7 292.19 L248.2 292.5 L248.7 292.81 L249.2 293.11 L249.7 293.42 L250.2 293.72 L250.7 294.02 L251.2 294.31 L251.7 294.6 L252.2 294.9 L252.7 295.18 L253.2 295.47 L253.7 295.76 L254.2 296.04 L254.7 296.32 L255.2 296.59 L255.7 296.87 L256.2 297.14 L256.7 297.41 L257.2 297.67 L257.7 297.94 L258.2 298.2 L258.7 298.46 L259.2 298.72 L259.7 298.98 L260.2 299.23 L260.7 299.48 L261.2 299.73 L261.7 299.98 L262.2 300.23 L262.7 300.47 L263.2 300.72 L263.7 300.96 L264.2 301.2 L264.7 301.44 L265.2 301.68 L265.7 301.91 L266.2 302.15 L266.7 302.38 L267.2 302.62 L267.7 302.85 L268.2 303.08 L268.7 303.31 L269.2 303.54 L269.7 303.77 L270.2 304 L270.7 304.23 L271.2 304.45 L271.7 304.68 L272.2 304.91 L272.7 305.13 L273.2 305.35 L273.7 305.57 L274.2 305.79 L274.7 306 L275.2 306.22 L275.7 306.43 L276.2 306.64 L276.7 306.85 L277.2 307.06 L277.7 307.27 L278.2 307.48 L278.7 307.69 L279.2 307.89 L279.7 308.1 L280.2 308.3 L280.7 308.51 L281.2 308.71 L281.7 308.91 L282.2 309.12 L282.7 309.32 L283.2 309.52 L283.7 309.72 L284.2 309.92 L284.7 310.13 L285.2 310.33 L285.7 310.53 L286.2 310.73 L286.7 310.94 L287.2 311.14 L287.7 311.34 L288.2 311.55 L288.7 311.75 L289.2 311.95 L289.7 312.16 L290.2 312.36 L290.7 312.56 L291.2 312.76 L291.7 312.96 L292.2 313.16 L292.7 313.36 L293.2 313.56 L293.7 313.76 L294.2 313.96 L294.7 314.16 L295.2 314.36 L295.7 314.56 L296.2 314.76 L296.7 314.96 L297.2 315.16 L297.7 315.35 L298.2 315.55 L298.7 315.75 L299.2 315.95 L299.7 316.14 L300.2 316.34 L300.7 316.53 L301.2 316.73 L301.7 316.93 L302.2 317.12 L302.7 317.32 L303.2 317.51 L303.7 317.7 L304.2 317.9 L304.7 318.09 L305.2 318.28 L305.5 318.4" fill="none" stroke="#2ca02c" stroke-width="2.2" stroke-linejoin="round"/>
<path d="M68.9 378.5 L69.4 378.42 L69.9 378.34 L70.4 378.27 L70.9 378.2 L71.4 378.13 L71.9 378.06 L72.4 377.99 L72.9 377.93 L73.4 377.87 L73.9 377.82 L74.4 377.76 L74.9 377.71 L75.4 377.66 L75.9 377.62 L76.4 377.58 L76.9 377.54 L77.4 377.52 L77.9 377.49 L78.4 377.47 L78.9 377.45 L79.4 377.41 L79.9 377.37 L80.4 377.32 L80.9 377.23 L81.4 377 L81.9 376.66 L82.4 376.23 L82.9 375.76 L83.4 375.29 L83.9 374.84 L84.4 374.44 L84.9 374.02 L85.4 373.57 L85.9 373.12 L86.4 372.69 L86.9 372.32 L87.4 372.04 L87.9 371.87 L88.4 371.76 L88.9 371.67 L89.4 371.59 L89.9 371.53 L90.4 371.47 L90.9 371.43 L91.4 371.38 L91.9 371.33 L92.4 371.27 L92.9 371.21 L93.4 371.13 L93.9 371.04 L94.4 370.93 L94.9 370.8 L95.4 370.64 L95.9 370.46 L96.4 370.25 L96.9 370.02 L97.4 369.76 L97.9 369.47 L98.4 369.05 L98.9 368.51 L99.4 367.89 L99.9 367.22 L100.4 366.55 L100.9 365.91 L101.4 365.35 L101.9 364.9 L102.4 364.59 L102.9 364.33 L103.4 364.09 L103.9 363.88 L104.4 363.68 L104.9 363.5 L105.4 363.32 L105.9 363.16 L106.4 363.01 L106.9 362.86 L107.4 362.71 L107.9 362.56 L108.4 362.4 L108.9 362.24 L109.4 362.09 L109.9 361.95 L110.4 361.81 L110.9 361.67 L111.4 361.54 L111.9 361.41 L112.4 361.28 L112.9 361.15 L113.4 361.02 L113.9 360.9 L114.4 360.76 L114.9 360.63 L115.4 360.49 L115.9 360.35 L116.4 360.21 L116.9 360.06 L117.4 359.9 L117.9 359.74 L118.4 359.57 L118.9 359.4 L119.4 359.22 L119.9 359.04 L120.4 358.85 L120.9 358.67 L121.4 358.48 L121.9 358.28 L122.4 358.09 L122.9 357.89 L123.4 357.69 L123.9 357.48 L124.4 357.28 L124.9 357.07 L125.4 356.87 L125.9 356.66 L126.4 356.45 L126.9 356.24 L127.4 356.03 L127.9 355.83 L128.4 355.62 L128.9 355.41 L129.4 355.2 L129.9 355 L130.4 354.79 L130.9 354.59 L131.4 354.38 L131.9 354.18 L132.4 353.97 L132.9 353.76 L133.4 353.54 L133.9 353.33 L134.4 353.11 L134.9 352.88 L135.4 352.66 L135.9 352.42 L136.4 352.19 L136.9 351.94 L137.4 351.69 L137.9 351.44 L138.4 351.17 L138.9 350.9 L139.4 350.62 L139.9 350.33 L140.4 350.03 L140.9 349.72 L141.4 349.4 L141.9 349.07 L142.4 348.74 L142.9 348.39 L143.4 348.04 L143.9 347.68 L144.4 347.32 L144.9 346.95 L145.4 346.58 L145.9 346.2 L146.4 345.81 L146.9 345.43 L147.4 345.03 L147.9 344.64 L148.4 344.24 L148.9 343.84 L149.4 343.44 L149.9 343.04 L150.4 342.63 L150.9 342.23 L151.4 341.81 L151.9 341.4 L152.4 340.98 L152.9 340.56 L153.4 340.13 L153.9 339.69 L154.4 339.25 L154.9 338.8 L155.4 338.35 L155.9 337.88 L156.4 337.41 L156.9 336.93 L157.4 336.44 L157.9 335.95 L158.4 335.44 L158.9 334.92 L159.4 334.39 L159.9 333.85 L160.4 333.3 L160.9 332.74 L161.4 332.17 L161.9 331.58 L162.4 330.98 L162.9 330.37 L163.4 329.74 L163.9 329.09 L164.4 328.41 L164.9 327.72 L165.4 327 L165.9 326.25 L166.4 325.48 L166.9 324.68 L167.4 323.84 L167.9 322.96 L168.4 321.99 L168.9 320.95 L169.4 319.83 L169.9 318.67 L170.4 317.47 L170.8 316.5" fill="none" stroke="#1f77b4" stroke-width="2.2" stroke-linejoin="round" stroke-dasharray="8 3.68"/>
<path d="M200 315.2 L200.5 316.24 L201 317.26 L201.5 318.26 L202 319.24 L202.5 320.2 L203 321.13 L203.5 322.03 L204 322.9 L204.5 323.75 L205 324.58 L205.5 325.4 L206 326.2 L206.5 326.99 L207 327.75 L207.5 328.5 L208 329.22 L208.5 329.92 L209 330.6 L209.5 331.26 L210 331.91 L210.5 332.54 L211 333.17 L211.5 333.79 L212 334.39 L212.5 334.98 L213 335.56 L213.5 336.12 L214 336.66 L214.5 337.19 L215 337.7 L215.5 338.19 L216 338.65 L216.5 339.1 L217 339.53 L217.5 339.95 L218 340.36 L218.5 340.76 L219 341.15 L219.5 341.53 L220 341.9 L220.5 342.26 L221 342.61 L221.5 342.96 L222 343.29 L222.5 343.62 L223 343.93 L223.5 344.24 L224 344.54 L224.5 344.84 L225 345.12 L225.5 345.4 L226 345.67 L226.5 345.94 L227 346.2 L227.5 346.45 L228 346.7 L228.5 346.95 L229 347.19 L229.5 347.43 L230 347.66 L230.5 347.89 L231 348.11 L231.5 348.33 L232 348.54 L232.5 348.75 L233 348.95 L233.5 349.15 L234 349.35 L234.5 349.54 L235 349.73 L235.5 349.91 L236 350.09 L236.5 350.27 L237 350.44 L237.5 350.61 L238 350.78 L238.5 350.95 L239 351.11 L239.5 351.27 L240 351.43 L240.5 351.59 L241 351.74 L241.5 351.89 L242 352.04 L242.5 352.18 L243 352.33 L243.5 352.47 L244 352.61 L244.5 352.74 L245 352.87 L245.5 353 L246 353.13 L246.5 353.26 L247 353.38 L247.5 353.5 L248 353.62 L248.5 353.73 L249 353.84 L249.5 353.96 L250 354.06 L250.5 354.17 L251 354.27 L251.5 354.38 L252 354.48 L252.5 354.58 L253 354.68 L253.5 354.77 L254 354.87 L254.5 354.96 L255 355.05 L255.5 355.14 L256 355.22 L256.5 355.31 L257 355.39 L257.5 355.47 L258 355.55 L258.5 355.63 L259 355.71 L259.5 355.79 L260 355.86 L260.5 355.92 L261 355.97 L261.5 356.02 L262 356.07 L262.5 356.12 L263 356.16 L263.5 356.21 L264 356.26 L264.5 356.32 L265 356.39 L265.5 356.47 L266 356.55 L266.5 356.66 L267 356.79 L267.5 357 L268 357.28 L268.5 357.61 L269 357.98 L269.5 358.49 L270 359.15 L270.5 359.89 L271 360.63 L271.5 361.31 L272 361.84 L272.5 362.21 L273 362.56 L273.5 362.88 L274 363.17 L274.5 363.41 L275 363.59 L275.5 363.69 L276 363.71 L276.5 363.72 L277 363.73 L277.5 363.74 L278 363.74 L278.5 363.75 L279 363.75 L279.5 363.75 L280 363.76 L280.5 363.77 L281 363.77 L281.5 363.79 L282 363.8 L282.5 363.89 L283 364.1 L283.5 364.4 L284 364.76 L284.5 365.16 L285 365.56 L285.5 365.93 L286 366.31 L286.5 366.76 L287 367.26 L287.5 367.75 L288 368.18 L288.5 368.51 L289 368.68 L289.5 368.7 L290 368.7 L290.5 368.7 L291 368.7 L291.5 368.7 L292 368.7 L292.5 368.7 L293 368.7 L293.5 368.7 L294 368.7 L294.5 368.7 L295 368.7 L295.5 368.7 L296 368.73 L296.5 368.79 L297 368.87 L297.5 368.97 L298 369.06 L298.5 369.14 L299 369.2 L299.5 369.24 L300 369.29 L300.5 369.33 L301 369.37 L301.5 369.41 L302 369.45 L302.5 369.48 L303 369.51 L303.5 369.54 L304 369.56 L304.5 369.58 L305 369.59 L305.3 369.6" fill="none" stroke="#1f77b4" stroke-width="2.2" stroke-linejoin="round"/>
<rect x="54.7" y="212.7" width="261.9" height="173.7" fill="none" stroke="#1a1a1a" stroke-width="1.1"/>
<line x1="54.7" y1="372.28" x2="57.4" y2="372.28" stroke="#1a1a1a" stroke-width="1"/>
<text x="51" y="377.58" font-size="14.4" fill="#000" text-anchor="end" font-family="Liberation Sans" textLength="8.6" lengthAdjust="spacingAndGlyphs">9</text>
<line x1="54.7" y1="348.95" x2="56.5" y2="348.95" stroke="#1a1a1a" stroke-width="1"/>
<line x1="54.7" y1="325.62" x2="57.4" y2="325.62" stroke="#1a1a1a" stroke-width="1"/>
<text x="51" y="330.92" font-size="14.4" fill="#000" text-anchor="end" font-family="Liberation Sans" textLength="17.2" lengthAdjust="spacingAndGlyphs">11</text>
<line x1="54.7" y1="302.29" x2="56.5" y2="302.29" stroke="#1a1a1a" stroke-width="1"/>
<line x1="54.7" y1="278.96" x2="57.4" y2="278.96" stroke="#1a1a1a" stroke-width="1"/>
<text x="51" y="284.26" font-size="14.4" fill="#000" text-anchor="end" font-family="Liberation Sans" textLength="17.2" lengthAdjust="spacingAndGlyphs">13</text>
<line x1="54.7" y1="255.63" x2="56.5" y2="255.63" stroke="#1a1a1a" stroke-width="1"/>
<line x1="54.7" y1="232.3" x2="57.4" y2="232.3" stroke="#1a1a1a" stroke-width="1"/>
<text x="51" y="237.6" font-size="14.4" fill="#000" text-anchor="end" font-family="Liberation Sans" textLength="17.2" lengthAdjust="spacingAndGlyphs">15</text>
<line x1="66.5" y1="386.4" x2="66.5" y2="383.7" stroke="#1a1a1a" stroke-width="1"/>
<line x1="57.99" y1="395.5" x2="66.34" y2="395.5" stroke="#000" stroke-width="1.0"/>
<text x="67.86" y="399.5" font-size="14.4" fill="#000" text-anchor="start" font-family="Liberation Sans" textLength="8.6" lengthAdjust="spacingAndGlyphs">8</text>
<line x1="96.3" y1="386.4" x2="96.3" y2="383.7" stroke="#1a1a1a" stroke-width="1"/>
<line x1="87.79" y1="395.5" x2="96.14" y2="395.5" stroke="#000" stroke-width="1.0"/>
<text x="97.66" y="399.5" font-size="14.4" fill="#000" text-anchor="start" font-family="Liberation Sans" textLength="8.6" lengthAdjust="spacingAndGlyphs">6</text>
<line x1="126.1" y1="386.4" x2="126.1" y2="383.7" stroke="#1a1a1a" stroke-width="1"/>
<line x1="117.59" y1="395.5" x2="125.94" y2="395.5" stroke="#000" stroke-width="1.0"/>
<text x="127.46" y="399.5" font-size="14.4" fill="#000" text-anchor="start" font-family="Liberation Sans" textLength="8.6" lengthAdjust="spacingAndGlyphs">4</text>
<line x1="155.9" y1="386.4" x2="155.9" y2="383.7" stroke="#1a1a1a" stroke-width="1"/>
<line x1="147.39" y1="395.5" x2="155.74" y2="395.5" stroke="#000" stroke-width="1.0"/>
<text x="157.26" y="399.5" font-size="14.4" fill="#000" text-anchor="start" font-family="Liberation Sans" textLength="8.6" lengthAdjust="spacingAndGlyphs">2</text>
<line x1="185.7" y1="386.4" x2="185.7" y2="383.7" stroke="#1a1a1a" stroke-width="1"/>
<text x="181.4" y="399.5" font-size="14.4" fill="#000" text-anchor="start" font-family="Liberation Sans" textLength="8.6" lengthAdjust="spacingAndGlyphs">0</text>
<line x1="215.5" y1="386.4" x2="215.5" y2="383.7" stroke="#1a1a1a" stroke-width="1"/>
<text x="211.2" y="399.5" font-size="14.4" fill="#000" text-anchor="start" font-family="Liberation Sans" textLength="8.6" lengthAdjust="spacingAndGlyphs">2</text>
<line x1="245.3" y1="386.4" x2="245.3" y2="383.7" stroke="#1a1a1a" stroke-width="1"/>
<text x="241" y="399.5" font-size="14.4" fill="#000" text-anchor="start" font-family="Liberation Sans" textLength="8.6" lengthAdjust="spacingAndGlyphs">4</text>
<line x1="275.1" y1="386.4" x2="275.1" y2="383.7" stroke="#1a1a1a" stroke-width="1"/>
<text x="270.8" y="399.5" font-size="14.4" fill="#000" text-anchor="start" font-family="Liberation Sans" textLength="8.6" lengthAdjust="spacingAndGlyphs">6</text>
<line x1="304.9" y1="386.4" x2="304.9" y2="383.7" stroke="#1a1a1a" stroke-width="1"/>
<text x="300.6" y="399.5" font-size="14.4" fill="#000" text-anchor="start" font-family="Liberation Sans" textLength="8.6" lengthAdjust="spacingAndGlyphs">8</text>
<line x1="66.5" y1="212.7" x2="66.5" y2="215" stroke="#1a1a1a" stroke-width="1"/>
<text x="66.5" y="206.8" font-size="14.4" fill="#1f77b4" text-anchor="middle" font-family="Liberation Sans" textLength="47.3" lengthAdjust="spacingAndGlyphs">1637.5</text>
<line x1="81.4" y1="212.7" x2="81.4" y2="215" stroke="#1a1a1a" stroke-width="1"/>
<line x1="96.3" y1="212.7" x2="96.3" y2="215" stroke="#1a1a1a" stroke-width="1"/>
<line x1="111.2" y1="212.7" x2="111.2" y2="215" stroke="#1a1a1a" stroke-width="1"/>
<line x1="126.1" y1="212.7" x2="126.1" y2="215" stroke="#1a1a1a" stroke-width="1"/>
<text x="126.1" y="206.8" font-size="14.4" fill="#1f77b4" text-anchor="middle" font-family="Liberation Sans" textLength="47.3" lengthAdjust="spacingAndGlyphs">1641.5</text>
<line x1="141" y1="212.7" x2="141" y2="215" stroke="#1a1a1a" stroke-width="1"/>
<line x1="155.9" y1="212.7" x2="155.9" y2="215" stroke="#1a1a1a" stroke-width="1"/>
<line x1="170.8" y1="212.7" x2="170.8" y2="215" stroke="#1a1a1a" stroke-width="1"/>
<line x1="185.7" y1="212.7" x2="185.7" y2="215" stroke="#1a1a1a" stroke-width="1"/>
<text x="185.7" y="206.8" font-size="14.4" fill="#1f77b4" text-anchor="middle" font-family="Liberation Sans" textLength="47.3" lengthAdjust="spacingAndGlyphs">1645.5</text>
<line x1="200.6" y1="212.7" x2="200.6" y2="215" stroke="#1a1a1a" stroke-width="1"/>
<line x1="215.5" y1="212.7" x2="215.5" y2="215" stroke="#1a1a1a" stroke-width="1"/>
<line x1="230.4" y1="212.7" x2="230.4" y2="215" stroke="#1a1a1a" stroke-width="1"/>
<line x1="245.3" y1="212.7" x2="245.3" y2="215" stroke="#1a1a1a" stroke-width="1"/>
<text x="245.3" y="206.8" font-size="14.4" fill="#1f77b4" text-anchor="middle" font-family="Liberation Sans" textLength="47.3" lengthAdjust="spacingAndGlyphs">1649.5</text>
<line x1="260.2" y1="212.7" x2="260.2" y2="215" stroke="#1a1a1a" stroke-width="1"/>
<line x1="275.1" y1="212.7" x2="275.1" y2="215" stroke="#1a1a1a" stroke-width="1"/>
<line x1="290" y1="212.7" x2="290" y2="215" stroke="#1a1a1a" stroke-width="1"/>
<line x1="304.9" y1="212.7" x2="304.9" y2="215" stroke="#1a1a1a" stroke-width="1"/>
<text x="304.9" y="206.8" font-size="14.4" fill="#1f77b4" text-anchor="middle" font-family="Liberation Sans" textLength="47.3" lengthAdjust="spacingAndGlyphs">1653.5</text>
<text x="185.1" y="187.5" font-size="14.4" fill="#1f77b4" text-anchor="middle" font-family="Liberation Sans" textLength="186.5" lengthAdjust="spacingAndGlyphs">Output energy <tspan font-style="italic">ħω</tspan><tspan font-size="9.5" dy="2.5">out</tspan><tspan dy="-2.5"> (meV)</tspan></text>
<text x="185.5" y="414.4" font-size="14.4" fill="#000" text-anchor="middle" font-family="Liberation Sans" textLength="235" lengthAdjust="spacingAndGlyphs">Electron energy change <tspan font-style="italic">ħω</tspan> (meV)</text>
<line x1="224.6" y1="230.9" x2="241" y2="230.9" stroke="#1f77b4" stroke-width="2.2"/>
<line x1="224.6" y1="245.6" x2="241" y2="245.6" stroke="#2ca02c" stroke-width="2.2"/>
<text x="243.6" y="235" font-size="14.4" fill="#000" text-anchor="start" font-family="Liberation Sans" textLength="61.5" lengthAdjust="spacingAndGlyphs"><tspan font-style="italic">t</tspan> = 5 nm</text>
<text x="243.6" y="249.7" font-size="14.4" fill="#000" text-anchor="start" font-family="Liberation Sans" textLength="61.5" lengthAdjust="spacingAndGlyphs"><tspan font-style="italic">t</tspan> = 0 nm</text>
<text x="69.4" y="311.3" font-size="14.4" fill="#2ca02c" text-anchor="start" font-family="Liberation Sans" textLength="27" lengthAdjust="spacingAndGlyphs">DFG</text>
<text x="272.6" y="302.4" font-size="14.4" fill="#2ca02c" text-anchor="start" font-family="Liberation Sans" textLength="25" lengthAdjust="spacingAndGlyphs">SFG</text>
<text x="92.3" y="356.3" font-size="14.4" fill="#1f77b4" text-anchor="start" font-family="Liberation Sans" textLength="27" lengthAdjust="spacingAndGlyphs">DFG</text>
<text x="272.6" y="356.8" font-size="14.4" fill="#1f77b4" text-anchor="start" font-family="Liberation Sans" textLength="25" lengthAdjust="spacingAndGlyphs">SFG</text>
<text x="57.5" y="228.8" font-size="14.4" fill="#000" text-anchor="start" font-family="Liberation Sans" textLength="8.2" lengthAdjust="spacingAndGlyphs" font-weight="bold">c</text>
<g transform="translate(10.5,299.45) rotate(-90)">
<text x="0" y="0" font-size="14.4" fill="#000" text-anchor="middle" font-family="Liberation Sans" textLength="142" lengthAdjust="spacingAndGlyphs">Normalized emission</text>
</g>
<g transform="translate(27.3,300.2) rotate(-90)">
<text x="0" y="0" font-size="14.4" fill="#000" text-anchor="middle" font-family="Liberation Sans" textLength="131" lengthAdjust="spacingAndGlyphs">probability <tspan font-family="Liberation Serif" font-style="italic">R</tspan>(<tspan font-style="italic">ω</tspan>)/<tspan font-style="italic">ξ</tspan><tspan font-size="10" dy="-5.5">2</tspan></text>
</g>
<path d="M385.8 261 L386.3 260.82 L386.8 260.64 L387.3 260.47 L387.8 260.29 L388.3 260.11 L388.8 259.94 L389.3 259.76 L389.8 259.59 L390.3 259.41 L390.8 259.24 L391.3 259.07 L391.8 258.9 L392.3 258.72 L392.8 258.55 L393.3 258.38 L393.8 258.21 L394.3 258.04 L394.8 257.87 L395.3 257.7 L395.8 257.53 L396.3 257.37 L396.8 257.2 L397.3 257.03 L397.8 256.87 L398.3 256.7 L398.8 256.53 L399.3 256.37 L399.8 256.21 L400.3 256.04 L400.8 255.88 L401.3 255.71 L401.8 255.55 L402.3 255.39 L402.8 255.23 L403.3 255.07 L403.8 254.91 L404.3 254.75 L404.8 254.59 L405.3 254.43 L405.8 254.27 L406.3 254.11 L406.8 253.95 L407.3 253.79 L407.8 253.64 L408.3 253.48 L408.8 253.32 L409.3 253.17 L409.8 253.01 L410.3 252.86 L410.8 252.71 L411.3 252.56 L411.8 252.41 L412.3 252.27 L412.8 252.12 L413.3 251.98 L413.8 251.83 L414.3 251.69 L414.8 251.55 L415.3 251.41 L415.8 251.26 L416.3 251.12 L416.8 250.98 L417.3 250.84 L417.8 250.7 L418.3 250.55 L418.8 250.41 L419.3 250.26 L419.8 250.12 L420.3 249.97 L420.8 249.82 L421.3 249.67 L421.8 249.52 L422.3 249.37 L422.8 249.22 L423.3 249.06 L423.8 248.9 L424.3 248.74 L424.8 248.58 L425.3 248.41 L425.8 248.25 L426.3 248.08 L426.8 247.91 L427.3 247.75 L427.8 247.58 L428.3 247.4 L428.8 247.23 L429.3 247.06 L429.8 246.89 L430.3 246.71 L430.8 246.53 L431.3 246.36 L431.8 246.18 L432.3 246 L432.8 245.82 L433.3 245.64 L433.8 245.47 L434.3 245.29 L434.8 245.1 L435.3 244.92 L435.8 244.74 L436.3 244.56 L436.8 244.38 L437.3 244.2 L437.8 244.02 L438.3 243.84 L438.8 243.65 L439.3 243.47 L439.8 243.28 L440.3 243.09 L440.8 242.9 L441.3 242.71 L441.8 242.51 L442.3 242.32 L442.8 242.12 L443.3 241.93 L443.8 241.73 L444.3 241.54 L444.8 241.34 L445.3 241.15 L445.8 240.95 L446.3 240.76 L446.8 240.57 L447.3 240.39 L447.8 240.2 L448.3 240.02 L448.8 239.85 L449.3 239.67 L449.8 239.5 L450.3 239.33 L450.8 239.16 L451.3 238.99 L451.8 238.82 L452.3 238.64 L452.8 238.47 L453.3 238.3 L453.8 238.14 L454.3 237.98 L454.8 237.82 L455.3 237.68 L455.8 237.55 L456.3 237.42 L456.8 237.31 L457.3 237.22 L457.8 237.13 L458.3 237.05 L458.8 236.96 L459.3 236.88 L459.8 236.8 L460.3 236.73 L460.8 236.66 L461.3 236.61 L461.8 236.56 L462.3 236.53 L462.8 236.51 L463.3 236.5 L463.8 236.54 L464.3 236.62 L464.8 236.74 L465.3 236.89 L465.8 237.08 L466.3 237.29 L466.8 237.51 L467.3 237.75 L467.8 238.01 L468.3 238.35 L468.8 238.78 L469.3 239.28 L469.8 239.85 L470.3 240.45 L470.8 241.08 L471.3 241.73 L471.8 242.41 L472.3 243.14 L472.8 243.94 L473.3 244.83 L473.8 245.83 L474.3 246.94 L474.8 248.29 L475.3 249.89 L475.8 251.69 L476.3 253.61 L476.8 255.66 L477.3 257.93 L477.8 260.41 L478.3 263.08 L478.8 266.01 L479.3 269.33 L479.8 272.67 L480.3 275.99 L480.8 279.38 L481.3 282.93 L481.8 286.73 L482.3 290.88 L482.8 295.91 L483.3 301.36 L483.8 306.34 L484.3 310.4 L484.8 314.1 L485.3 317.52 L485.8 320.76 L486.3 323.88 L486.8 326.91 L487.3 329.76 L487.8 332.49 L488.3 335.17 L488.8 337.84 L489.3 340.58 L489.8 343.47 L490.3 346.56 L490.8 349.51 L491.3 351.96 L491.8 354.32 L492.3 355.5 L492.8 353.42 L493.3 350.34 L493.8 347.12 L494.3 343.71 L494.8 340.38 L495.3 337.09 L495.8 333.78 L496.3 330.47 L496.8 327.15 L497.3 323.84 L497.8 320.53 L498.3 317.22 L498.8 313.9 L499.3 310.56 L499.8 307.2 L500.3 303.79 L500.8 300.34 L501.3 296.87 L501.8 293.41 L502.3 290 L502.8 286.62 L503.3 283.25 L503.8 279.91 L504.3 276.59 L504.8 273.3 L505.3 270.04 L505.8 266.76 L506.3 263.52 L506.8 260.38 L507.3 257.42 L507.8 254.6 L508.3 251.91 L508.8 249.38 L509.3 246.98 L509.8 244.6 L510.3 242.28 L510.8 240.07 L511.3 238 L511.8 236.13 L512.3 234.5 L512.8 233.03 L513.3 231.63 L513.8 230.31 L514.3 229.1 L514.8 228.02 L515.3 227.09 L515.8 226.33 L516.3 225.7 L516.8 225.08 L517.3 224.47 L517.8 223.89 L518.3 223.35 L518.8 222.83 L519.3 222.36 L519.8 221.94 L520.3 221.58 L520.8 221.28 L521.3 221.04 L521.8 220.89 L522.3 220.81 L522.8 220.82 L523.3 220.91 L523.8 221.1 L524.3 221.35 L524.8 221.68 L525.3 222.06 L525.8 222.51 L526.3 223 L526.8 223.53 L527.3 224.1 L527.8 224.7 L528.3 225.31 L528.8 225.94 L529.3 226.61 L529.8 227.42 L530.3 228.38 L530.8 229.49 L531.3 230.72 L531.8 232.08 L532.3 233.56 L532.8 235.16 L533.3 236.99 L533.8 239.17 L534.3 241.81 L534.8 245 L535.3 250.23 L535.8 256.78 L536.3 261.72 L536.8 265.67 L537.3 269.21 L537.8 272.44 L538.3 275.5 L538.8 278.49 L539.3 281.51 L539.8 284.41 L540.3 287.2 L540.8 289.9 L541.3 292.57 L541.8 295.23 L542.3 297.92 L542.8 300.7 L543.3 303.52 L543.8 306.33 L544.3 309.16 L544.8 312.02 L545.3 314.93 L545.8 317.92 L546.3 321 L546.8 324.28 L547.3 327.69 L547.8 331 L548.3 334.83 L548.8 336.38 L549.3 333.3 L549.8 329.66 L550.3 326.11 L550.8 322.45 L551.3 318.81 L551.8 315.07 L552.3 311.29 L552.8 307.57 L553.3 304.01 L553.8 300.7 L554.3 297.68 L554.8 294.88 L555.3 292.22 L555.8 289.63 L556.3 287.03 L556.8 284.34 L557.3 281.5 L557.8 278.42 L558.3 275.11 L558.8 271.64 L559.3 268.13 L559.8 264.64 L560.3 261.29 L560.8 258.11 L561.3 255.03 L561.8 252.03 L562.3 249.13 L562.8 246.31 L563.3 243.49 L563.8 240.79 L564.3 238.37 L564.8 236.26 L565.3 234.23 L565.8 232.29 L566.3 230.48 L566.8 228.87 L567.3 227.48 L567.8 226.38 L568.3 225.51 L568.8 224.69 L569.3 223.92 L569.8 223.2 L570.3 222.54 L570.8 221.95 L571.3 221.43 L571.8 220.99 L572.3 220.62 L572.8 220.35 L573.3 220.17 L573.8 220.03 L574.3 219.89 L574.8 219.77 L575.3 219.65 L575.8 219.56 L576.3 219.47 L576.8 219.4 L577.3 219.35 L577.8 219.31 L578.3 219.3 L578.8 219.32 L579.3 219.38 L579.8 219.5 L580.3 219.66 L580.8 219.86 L581.3 220.09 L581.8 220.36 L582.3 220.65 L582.8 220.97 L583.3 221.31 L583.8 221.68 L584.3 222.19 L584.8 222.88 L585.3 223.73 L585.8 224.71 L586.3 225.78 L586.8 226.92 L587.3 228.09 L587.8 229.29 L588.3 230.65 L588.8 232.18 L589.3 233.84 L589.8 235.58 L590.3 237.37 L590.8 239.15 L591.3 240.89 L591.8 242.6 L592.3 244.6 L592.8 246.79 L593.3 248.95 L593.8 250.88 L594.3 252.34 L594.8 253.12 L595.3 253.07 L595.8 252.36 L596.3 251.15 L596.8 249.58 L597.3 247.78 L597.8 245.9 L598.3 244.08 L598.8 242.46 L599.3 241.1 L599.8 239.76 L600.3 238.41 L600.8 237.09 L601.3 235.79 L601.8 234.54 L602.3 233.35 L602.8 232.23 L603.3 231.2 L603.8 230.19 L604.3 229.19 L604.8 228.2 L605.3 227.26 L605.8 226.37 L606.3 225.57 L606.8 224.85 L607.3 224.26 L607.8 223.8 L608.3 223.42 L608.8 223.05 L609.3 222.7 L609.8 222.4 L610.3 222.14 L610.8 221.95 L611.3 221.83 L611.8 221.8 L612.3 221.84 L612.8 221.91 L613.3 222.03 L613.8 222.17 L614.3 222.34 L614.8 222.53 L615.3 222.72 L615.8 222.93 L616.3 223.2 L616.8 223.53 L617.3 223.91 L617.8 224.34 L618.3 224.81 L618.8 225.32 L619.3 225.87 L619.8 226.44 L620.1 226.8" fill="none" stroke="#1f77b4" stroke-width="2.2" stroke-linejoin="round"/>
<path d="M387.3 266.6 L387.8 266.44 L388.3 266.28 L388.8 266.13 L389.3 265.97 L389.8 265.81 L390.3 265.65 L390.8 265.5 L391.3 265.34 L391.8 265.18 L392.3 265.03 L392.8 264.87 L393.3 264.71 L393.8 264.56 L394.3 264.4 L394.8 264.25 L395.3 264.09 L395.8 263.93 L396.3 263.78 L396.8 263.62 L397.3 263.47 L397.8 263.31 L398.3 263.16 L398.8 263 L399.3 262.85 L399.8 262.69 L400.3 262.54 L400.8 262.38 L401.3 262.23 L401.8 262.07 L402.3 261.92 L402.8 261.76 L403.3 261.61 L403.8 261.46 L404.3 261.3 L404.8 261.15 L405.3 260.99 L405.8 260.84 L406.3 260.69 L406.8 260.53 L407.3 260.38 L407.8 260.23 L408.3 260.08 L408.8 259.92 L409.3 259.77 L409.8 259.62 L410.3 259.47 L410.8 259.32 L411.3 259.17 L411.8 259.02 L412.3 258.87 L412.8 258.72 L413.3 258.57 L413.8 258.43 L414.3 258.28 L414.8 258.13 L415.3 257.99 L415.8 257.84 L416.3 257.69 L416.8 257.54 L417.3 257.4 L417.8 257.25 L418.3 257.1 L418.8 256.95 L419.3 256.8 L419.8 256.65 L420.3 256.5 L420.8 256.34 L421.3 256.19 L421.8 256.03 L422.3 255.88 L422.8 255.72 L423.3 255.56 L423.8 255.4 L424.3 255.24 L424.8 255.07 L425.3 254.91 L425.8 254.74 L426.3 254.58 L426.8 254.41 L427.3 254.24 L427.8 254.07 L428.3 253.9 L428.8 253.72 L429.3 253.55 L429.8 253.38 L430.3 253.2 L430.8 253.03 L431.3 252.85 L431.8 252.67 L432.3 252.5 L432.8 252.32 L433.3 252.14 L433.8 251.96 L434.3 251.78 L434.8 251.6 L435.3 251.42 L435.8 251.24 L436.3 251.06 L436.8 250.88 L437.3 250.7 L437.8 250.52 L438.3 250.34 L438.8 250.15 L439.3 249.97 L439.8 249.78 L440.3 249.59 L440.8 249.4 L441.3 249.21 L441.8 249.02 L442.3 248.82 L442.8 248.63 L443.3 248.43 L443.8 248.24 L444.3 248.05 L444.8 247.85 L445.3 247.66 L445.8 247.47 L446.3 247.28 L446.8 247.09 L447.3 246.9 L447.8 246.71 L448.3 246.53 L448.8 246.35 L449.3 246.18 L449.8 246 L450.3 245.83 L450.8 245.65 L451.3 245.46 L451.8 245.27 L452.3 245.07 L452.8 244.87 L453.3 244.67 L453.8 244.47 L454.3 244.28 L454.8 244.09 L455.3 243.92 L455.8 243.76 L456.3 243.61 L456.8 243.48 L457.3 243.38 L457.8 243.29 L458.3 243.23 L458.8 243.2 L459.3 243.18 L459.8 243.17 L460.3 243.15 L460.8 243.14 L461.3 243.13 L461.8 243.12 L462.3 243.11 L462.8 243.11 L463.3 243.1 L463.8 243.1 L464.3 243.12 L464.8 243.22 L465.3 243.37 L465.8 243.57 L466.3 243.8 L466.8 244.06 L467.3 244.33 L467.8 244.62 L468.3 244.96 L468.8 245.37 L469.3 245.84 L469.8 246.37 L470.3 246.95 L470.8 247.58 L471.3 248.24 L471.8 248.99 L472.3 249.85 L472.8 250.81 L473.3 251.88 L473.8 253.02 L474.3 254.25 L474.8 255.64 L475.3 257.2 L475.8 258.96 L476.3 260.89 L476.8 263.15 L477.3 265.83 L477.8 268.6 L478.3 271.34 L478.8 274.15 L479.3 277 L479.8 279.86 L480.3 282.68 L480.8 285.42 L481.3 288.16 L481.8 291 L482.3 294.04 L482.8 297.41 L483.3 301.33 L483.8 305.54 L484.3 309.69 L484.8 313.47 L485.3 317.08 L485.8 320.58 L486.3 323.95 L486.8 327.16 L487.3 330.18 L487.8 332.98 L488.3 335.63 L488.8 338.21 L489.3 340.79 L489.8 343.45 L490.3 346.27 L490.8 349.16 L491.3 351.97 L491.8 355.03 L492.3 357 L492.8 355.03 L493.3 351.97 L493.8 349.18 L494.3 346.29 L494.8 343.44 L495.3 340.69 L495.8 337.99 L496.3 335.27 L496.8 332.49 L497.3 329.6 L497.8 326.54 L498.3 323.33 L498.8 320.03 L499.3 316.67 L499.8 313.33 L500.3 310.02 L500.8 306.71 L501.3 303.39 L501.8 300.05 L502.3 296.68 L502.8 293.25 L503.3 289.76 L503.8 286.24 L504.3 282.75 L504.8 279.34 L505.3 276 L505.8 272.66 L506.3 269.39 L506.8 266.29 L507.3 263.46 L507.8 260.83 L508.3 258.35 L508.8 256.02 L509.3 253.84 L509.8 251.79 L510.3 249.87 L510.8 248.06 L511.3 246.34 L511.8 244.67 L512.3 242.95 L512.8 241.2 L513.3 239.53 L513.8 238.01 L514.3 236.76 L514.8 235.84 L515.3 235.07 L515.8 234.32 L516.3 233.59 L516.8 232.89 L517.3 232.23 L517.8 231.61 L518.3 231.04 L518.8 230.51 L519.3 230.03 L519.8 229.61 L520.3 229.25 L520.8 228.96 L521.3 228.73 L521.8 228.58 L522.3 228.51 L522.8 228.51 L523.3 228.58 L523.8 228.7 L524.3 228.88 L524.8 229.11 L525.3 229.4 L525.8 229.73 L526.3 230.12 L526.8 230.54 L527.3 231.02 L527.8 231.53 L528.3 232.08 L528.8 232.67 L529.3 233.29 L529.8 233.95 L530.3 234.65 L530.8 235.68 L531.3 237.13 L531.8 238.9 L532.3 240.93 L532.8 243.13 L533.3 245.41 L533.8 247.7 L534.3 250.14 L534.8 252.89 L535.3 255.84 L535.8 258.91 L536.3 262 L536.8 265.2 L537.3 268.58 L537.8 272.06 L538.3 275.52 L538.8 278.86 L539.3 282 L539.8 284.91 L540.3 287.69 L540.8 290.36 L541.3 292.98 L541.8 295.58 L542.3 298.21 L542.8 300.9 L543.3 303.66 L543.8 306.43 L544.3 309.2 L544.8 311.99 L545.3 314.84 L545.8 317.76 L546.3 320.77 L546.8 323.89 L547.3 327.17 L547.8 330.59 L548.3 334.73 L548.8 338 L549.3 335.33 L549.8 331.33 L550.3 328.03 L550.8 324.71 L551.3 321.31 L551.8 317.72 L552.3 314 L552.8 310.28 L553.3 306.66 L553.8 303.27 L554.3 300.19 L554.8 297.37 L555.3 294.72 L555.8 292.16 L556.3 289.63 L556.8 287.04 L557.3 284.32 L557.8 281.39 L558.3 278.2 L558.8 274.81 L559.3 271.33 L559.8 267.86 L560.3 264.52 L560.8 261.39 L561.3 258.28 L561.8 255.18 L562.3 252.26 L562.8 249.7 L563.3 247.63 L563.8 245.85 L564.3 244.21 L564.8 242.69 L565.3 241.29 L565.8 239.99 L566.3 238.78 L566.8 237.66 L567.3 236.6 L567.8 235.59 L568.3 234.62 L568.8 233.66 L569.3 232.73 L569.8 231.86 L570.3 231.07 L570.8 230.38 L571.3 229.81 L571.8 229.4 L572.3 229.08 L572.8 228.76 L573.3 228.47 L573.8 228.19 L574.3 227.93 L574.8 227.69 L575.3 227.47 L575.8 227.28 L576.3 227.12 L576.8 226.99 L577.3 226.89 L577.8 226.83 L578.3 226.8 L578.8 226.82 L579.3 226.88 L579.8 226.98 L580.3 227.12 L580.8 227.3 L581.3 227.51 L581.8 227.74 L582.3 228 L582.8 228.27 L583.3 228.56 L583.8 228.86 L584.3 229.25 L584.8 229.76 L585.3 230.37 L585.8 231.06 L586.3 231.83 L586.8 232.66 L587.3 233.54 L587.8 234.46 L588.3 235.4 L588.8 236.37 L589.3 237.41 L589.8 238.54 L590.3 239.77 L590.8 241.11 L591.3 242.59 L591.8 244.23 L592.3 246.03 L592.8 248.2 L593.3 251.94 L593.8 256.14 L594.3 259.19 L594.8 259.76 L595.3 259.29 L595.8 258.42 L596.3 257.24 L596.8 255.88 L597.3 254.43 L597.8 253.03 L598.3 251.76 L598.8 250.47 L599.3 249.07 L599.8 247.61 L600.3 246.12 L600.8 244.64 L601.3 243.2 L601.8 241.84 L602.3 240.59 L602.8 239.5 L603.3 238.5 L603.8 237.5 L604.3 236.53 L604.8 235.59 L605.3 234.71 L605.8 233.89 L606.3 233.16 L606.8 232.52 L607.3 232 L607.8 231.6 L608.3 231.28 L608.8 230.96 L609.3 230.67 L609.8 230.4 L610.3 230.16 L610.8 229.96 L611.3 229.79 L611.8 229.68 L612.3 229.61 L612.8 229.6 L613.3 229.65 L613.8 229.74 L614.3 229.88 L614.8 230.07 L615.3 230.31 L615.8 230.59 L616.3 230.92 L616.8 231.3 L617.3 231.72 L617.8 232.19 L618.3 232.71 L618.8 233.26 L619 233.5" fill="none" stroke="#1f77b4" stroke-width="2.2" stroke-linejoin="round" stroke-dasharray="8 3.52"/>
<path d="M387.5 377.9 L388 377.85 L388.5 377.79 L389 377.73 L389.5 377.67 L390 377.61 L390.5 377.55 L391 377.49 L391.5 377.43 L392 377.36 L392.5 377.3 L393 377.23 L393.5 377.16 L394 377.09 L394.5 377.03 L395 376.96 L395.5 376.89 L396 376.81 L396.5 376.74 L397 376.66 L397.5 376.58 L398 376.5 L398.5 376.42 L399 376.34 L399.5 376.27 L400 376.21 L400.5 376.15 L401 376.09 L401.5 376.03 L402 375.98 L402.5 375.92 L403 375.87 L403.5 375.82 L404 375.76 L404.5 375.7 L405 375.64 L405.5 375.57 L406 375.5 L406.5 375.42 L407 375.34 L407.5 375.24 L408 375.11 L408.5 374.97 L409 374.81 L409.5 374.65 L410 374.49 L410.5 374.35 L411 374.23 L411.5 374.12 L412 374.02 L412.5 373.92 L413 373.83 L413.5 373.74 L414 373.65 L414.5 373.57 L415 373.48 L415.5 373.39 L416 373.3 L416.5 373.2 L417 373.09 L417.5 372.98 L418 372.85 L418.5 372.71 L419 372.55 L419.5 372.36 L420 372.16 L420.5 371.96 L421 371.76 L421.5 371.57 L422 371.4 L422.5 371.23 L423 371.08 L423.5 370.93 L424 370.78 L424.5 370.64 L425 370.49 L425.5 370.35 L426 370.2 L426.5 370.06 L427 369.9 L427.5 369.74 L428 369.57 L428.5 369.39 L429 369.2 L429.5 369 L430 368.77 L430.5 368.51 L431 368.22 L431.5 367.93 L432 367.64 L432.5 367.35 L433 367.09 L433.5 366.82 L434 366.56 L434.5 366.3 L435 366.04 L435.5 365.77 L436 365.5 L436.5 365.23 L437 364.96 L437.5 364.68 L438 364.4 L438.5 364.11 L439 363.8 L439.5 363.47 L440 363.1 L440.5 362.7 L441 362.27 L441.5 361.81 L442 361.34 L442.5 360.85 L443 360.37 L443.5 359.89 L444 359.42 L444.5 358.96 L445 358.48 L445.5 358.01 L446 357.53 L446.5 357.06 L447 356.57 L447.5 356.09 L448 355.6 L448.5 355.1 L449 354.6 L449.5 354.09 L450 353.57 L450.5 353.05 L451 352.52 L451.5 351.99 L452 351.45 L452.5 350.93 L453 350.4 L453.5 349.86 L454 349.31 L454.5 348.75 L455 348.16 L455.5 347.55 L456 346.9 L456.5 346.22 L457 345.5 L457.5 344.71 L458 343.83 L458.5 342.89 L459 341.89 L459.5 340.85 L460 339.78 L460.5 338.69 L461 337.61 L461.5 336.53 L462 335.48 L462.5 334.45 L463 333.43 L463.5 332.41 L464 331.37 L464.5 330.31 L465 329.22 L465.5 328.09 L466 326.9 L466.5 325.66 L467 324.34 L467.5 322.95 L468 321.49 L468.5 319.95 L469 318.34 L469.5 316.66 L470 314.9 L470.5 313.02 L471 310.98 L471.5 308.83 L472 306.63 L472.5 304.41 L473 302.17 L473.5 299.89 L474 297.54 L474.5 295.09 L475 292.53 L475.5 289.8 L476 286.87 L476.5 283.81 L477 280.67 L477.5 277.52 L478 274.41 L478.5 271.34 L479 268.2 L479.5 265.05 L480 261.94 L480.5 258.92 L481 256.05 L481.5 253.31 L482 250.6 L482.5 247.94 L483 245.34 L483.5 242.84 L484 240.45 L484.5 238.19 L485 236.09 L485.5 234.13 L486 232.2 L486.5 230.35 L487 228.64 L487.5 227.13 L488 225.9 L488.5 224.94 L489 224.01 L489.5 223.13 L490 222.36 L490.5 221.73 L491 221.3 L491.5 221.11 L492 221.17 L492.5 221.44 L493 221.89 L493.5 222.49 L494 223.21 L494.5 224.02 L495 224.9 L495.5 225.83 L496 226.84 L496.5 228.19 L497 229.86 L497.5 231.75 L498 233.8 L498.5 235.93 L499 238.05 L499.5 240.13 L500 242.34 L500.5 244.69 L501 247.11 L501.5 249.56 L502 251.98 L502.5 254.32 L503 256.53 L503.5 258.65 L504 260.72 L504.5 262.75 L505 264.74 L505.5 266.69 L506 268.61 L506.5 270.5 L507 272.38 L507.5 274.25 L508 276.12 L508.5 277.96 L509 279.76 L509.5 281.52 L510 283.23 L510.5 284.86 L511 286.41 L511.5 287.88 L512 289.36 L512.5 290.84 L513 292.3 L513.5 293.72 L514 295.05 L514.5 296.28 L515 297.38 L515.5 298.32 L516 299.07 L516.5 299.69 L517 300.28 L517.5 300.86 L518 301.41 L518.5 301.92 L519 302.4 L519.5 302.82 L520 303.2 L520.5 303.51 L521 303.75 L521.5 303.91 L522 303.99 L522.5 303.99 L523 303.94 L523.5 303.85 L524 303.71 L524.5 303.55 L525 303.35 L525.5 303.12 L526 302.86 L526.5 302.59 L527 302.29 L527.5 301.98 L528 301.66 L528.5 301.31 L529 300.88 L529.5 300.36 L530 299.76 L530.5 299.08 L531 298.31 L531.5 297.46 L532 296.53 L532.5 295.52 L533 294.43 L533.5 293.25 L534 292 L534.5 290.34 L535 288.04 L535.5 285.28 L536 282.19 L536.5 278.96 L537 275.72 L537.5 272.64 L538 269.88 L538.5 267.48 L539 265.08 L539.5 262.69 L540 260.37 L540.5 258.18 L541 256.18 L541.5 254.43 L542 252.98 L542.5 251.86 L543 250.93 L543.5 250.12 L544 249.4 L544.5 248.73 L545 248.04 L545.5 247.29 L546 246.59 L546.5 246.01 L547 245.66 L547.5 245.61 L548 245.74 L548.5 245.99 L549 246.32 L549.5 246.71 L550 247.13 L550.5 247.57 L551 248.11 L551.5 248.75 L552 249.51 L552.5 250.38 L553 251.38 L553.5 252.5 L554 254.06 L554.5 256.27 L555 259 L555.5 262.11 L556 265.45 L556.5 268.89 L557 272.3 L557.5 275.53 L558 278.44 L558.5 280.9 L559 282.97 L559.5 284.85 L560 286.59 L560.5 288.23 L561 289.85 L561.5 291.48 L562 293.18 L562.5 295 L563 297 L563.5 299.28 L564 301.85 L564.5 304.63 L565 307.51 L565.5 310.41 L566 313.24 L566.5 315.91 L567 318.32 L567.5 320.39 L568 322.08 L568.5 323.61 L569 325.02 L569.5 326.31 L570 327.52 L570.5 328.66 L571 329.75 L571.5 330.8 L572 331.83 L572.5 332.83 L573 333.79 L573.5 334.72 L574 335.6 L574.5 336.42 L575 337.2 L575.5 337.91 L576 338.55 L576.5 339.18 L577 339.78 L577.5 340.35 L578 340.89 L578.5 341.39 L579 341.83 L579.5 342.22 L580 342.54 L580.5 342.82 L581 343.09 L581.5 343.36 L582 343.61 L582.5 343.84 L583 344.05 L583.5 344.24 L584 344.39 L584.5 344.5 L585 344.57 L585.5 344.6 L586 344.56 L586.5 344.45 L587 344.28 L587.5 344.06 L588 343.8 L588.5 343.52 L589 343.22 L589.5 342.92 L590 342.63 L590.5 342.35 L591 342.1 L591.5 341.8 L592 341.47 L592.5 341.12 L593 340.78 L593.5 340.47 L594 340.2 L594.5 340.01 L595 339.91 L595.5 339.94 L596 340.15 L596.5 340.52 L597 341.02 L597.5 341.61 L598 342.25 L598.5 342.92 L599 343.58 L599.5 344.2 L600 344.82 L600.5 345.5 L601 346.23 L601.5 346.97 L602 347.73 L602.5 348.47 L603 349.18 L603.5 349.84 L604 350.43 L604.5 351.02 L605 351.61 L605.5 352.19 L606 352.74 L606.5 353.25 L607 353.71 L607.5 354.12 L608 354.44 L608.5 354.72 L609 354.99 L609.5 355.24 L610 355.48 L610.5 355.69 L611 355.87 L611.5 356 L612 356.08 L612.5 356.1 L613 356.07 L613.5 356.01 L614 355.92 L614.5 355.8 L615 355.65 L615.5 355.48 L616 355.3 L616.5 355.09 L617 354.87 L617.5 354.64 L618 354.4 L618.5 354.06 L619 353.63 L619.5 353.13 L620 352.57 L620.5 351.96 L621 351.34 L621.5 350.7 L622 350.03 L622.5 349.3 L623 348.52 L623.5 347.68 L624 346.8 L624.5 345.87 L624.8 345.3" fill="none" stroke="#d62728" stroke-width="2.2" stroke-linejoin="round" stroke-dasharray="8 3.63"/>
<rect x="374.7" y="212.9" width="261.8" height="173.3" fill="none" stroke="#1a1a1a" stroke-width="1.1"/>
<line x1="374.7" y1="226.2" x2="377.4" y2="226.2" stroke="#1a1a1a" stroke-width="1"/>
<text x="350.4" y="231.5" font-size="14.4" fill="#000" text-anchor="start" font-family="Liberation Sans" textLength="21.5" lengthAdjust="spacingAndGlyphs">0.0</text>
<line x1="374.7" y1="248.97" x2="376.5" y2="248.97" stroke="#1a1a1a" stroke-width="1"/>
<line x1="374.7" y1="271.74" x2="377.4" y2="271.74" stroke="#1a1a1a" stroke-width="1"/>
<line x1="340.53" y1="272.5" x2="348.88" y2="272.5" stroke="#000" stroke-width="1.0"/>
<text x="350.4" y="277.04" font-size="14.4" fill="#000" text-anchor="start" font-family="Liberation Sans" textLength="21.5" lengthAdjust="spacingAndGlyphs">0.2</text>
<line x1="374.7" y1="294.51" x2="376.5" y2="294.51" stroke="#1a1a1a" stroke-width="1"/>
<line x1="374.7" y1="317.28" x2="377.4" y2="317.28" stroke="#1a1a1a" stroke-width="1"/>
<line x1="340.53" y1="318.5" x2="348.88" y2="318.5" stroke="#000" stroke-width="1.0"/>
<text x="350.4" y="322.58" font-size="14.4" fill="#000" text-anchor="start" font-family="Liberation Sans" textLength="21.5" lengthAdjust="spacingAndGlyphs">0.4</text>
<line x1="374.7" y1="340.05" x2="376.5" y2="340.05" stroke="#1a1a1a" stroke-width="1"/>
<line x1="374.7" y1="362.82" x2="377.4" y2="362.82" stroke="#1a1a1a" stroke-width="1"/>
<line x1="340.53" y1="363.5" x2="348.88" y2="363.5" stroke="#000" stroke-width="1.0"/>
<text x="350.4" y="368.12" font-size="14.4" fill="#000" text-anchor="start" font-family="Liberation Sans" textLength="21.5" lengthAdjust="spacingAndGlyphs">0.6</text>
<line x1="374.7" y1="385.59" x2="376.5" y2="385.59" stroke="#1a1a1a" stroke-width="1"/>
<line x1="636.5" y1="384.4" x2="633.8" y2="384.4" stroke="#1a1a1a" stroke-width="1"/>
<text x="638.9" y="389.7" font-size="14.4" fill="#000" text-anchor="start" font-family="Liberation Sans" textLength="30.1" lengthAdjust="spacingAndGlyphs">0.00</text>
<line x1="636.5" y1="337" x2="633.8" y2="337" stroke="#1a1a1a" stroke-width="1"/>
<text x="638.9" y="342.3" font-size="14.4" fill="#000" text-anchor="start" font-family="Liberation Sans" textLength="30.1" lengthAdjust="spacingAndGlyphs">0.05</text>
<line x1="636.5" y1="289.6" x2="633.8" y2="289.6" stroke="#1a1a1a" stroke-width="1"/>
<text x="638.9" y="294.9" font-size="14.4" fill="#000" text-anchor="start" font-family="Liberation Sans" textLength="30.1" lengthAdjust="spacingAndGlyphs">0.10</text>
<line x1="636.5" y1="242.2" x2="633.8" y2="242.2" stroke="#1a1a1a" stroke-width="1"/>
<text x="638.9" y="247.5" font-size="14.4" fill="#000" text-anchor="start" font-family="Liberation Sans" textLength="30.1" lengthAdjust="spacingAndGlyphs">0.15</text>
<line x1="389.3" y1="386.2" x2="389.3" y2="383.5" stroke="#1a1a1a" stroke-width="1"/>
<text x="389.3" y="398.9" font-size="14.4" fill="#000" text-anchor="middle" font-family="Liberation Sans" textLength="8.6" lengthAdjust="spacingAndGlyphs">4</text>
<line x1="418.35" y1="386.2" x2="418.35" y2="384.4" stroke="#1a1a1a" stroke-width="1"/>
<line x1="447.4" y1="386.2" x2="447.4" y2="383.5" stroke="#1a1a1a" stroke-width="1"/>
<text x="447.4" y="398.9" font-size="14.4" fill="#000" text-anchor="middle" font-family="Liberation Sans" textLength="8.6" lengthAdjust="spacingAndGlyphs">5</text>
<line x1="476.45" y1="386.2" x2="476.45" y2="384.4" stroke="#1a1a1a" stroke-width="1"/>
<line x1="505.5" y1="386.2" x2="505.5" y2="383.5" stroke="#1a1a1a" stroke-width="1"/>
<text x="505.5" y="398.9" font-size="14.4" fill="#000" text-anchor="middle" font-family="Liberation Sans" textLength="8.6" lengthAdjust="spacingAndGlyphs">6</text>
<line x1="534.55" y1="386.2" x2="534.55" y2="384.4" stroke="#1a1a1a" stroke-width="1"/>
<line x1="563.6" y1="386.2" x2="563.6" y2="383.5" stroke="#1a1a1a" stroke-width="1"/>
<text x="563.6" y="398.9" font-size="14.4" fill="#000" text-anchor="middle" font-family="Liberation Sans" textLength="8.6" lengthAdjust="spacingAndGlyphs">7</text>
<line x1="592.65" y1="386.2" x2="592.65" y2="384.4" stroke="#1a1a1a" stroke-width="1"/>
<line x1="621.7" y1="386.2" x2="621.7" y2="383.5" stroke="#1a1a1a" stroke-width="1"/>
<text x="621.7" y="398.9" font-size="14.4" fill="#000" text-anchor="middle" font-family="Liberation Sans" textLength="8.6" lengthAdjust="spacingAndGlyphs">8</text>
<text x="505" y="413.9" font-size="14.4" fill="#000" text-anchor="middle" font-family="Liberation Sans" textLength="253" lengthAdjust="spacingAndGlyphs">Electron energy loss/gain |<tspan font-style="italic">ħω</tspan>| (meV)</text>
<text x="378.2" y="229.1" font-size="14.4" fill="#000" text-anchor="start" font-family="Liberation Sans" textLength="9.7" lengthAdjust="spacingAndGlyphs" font-weight="bold">d</text>
<g transform="translate(335.5,299.85) rotate(-90)">
<text x="0" y="0" font-size="14.4" fill="#000" text-anchor="middle" font-family="Liberation Sans" textLength="99.5" lengthAdjust="spacingAndGlyphs"><tspan font-style="italic">∂</tspan><tspan font-size="10.3" dy="2.7" font-style="italic">ω</tspan><tspan dy="-2.7" font-family="Liberation Serif" font-style="italic">R</tspan>(<tspan font-style="italic">ω</tspan>)/<tspan font-style="italic">ξ</tspan><tspan font-size="10.5" dy="-5.5">2</tspan><tspan dy="5.5"> (ps)</tspan></text>
</g>
<g transform="translate(682.7,299.6) rotate(-90)">
<text x="0" y="0" font-size="14.4" fill="#000" text-anchor="middle" font-family="Liberation Sans" textLength="40.5" lengthAdjust="spacingAndGlyphs">Im{<tspan font-style="italic">ε</tspan>}</text>
</g>
<line x1="402.9" y1="246.1" x2="385.9" y2="246.1" stroke="#1f77b4" stroke-width="1.1"/>
<path d="M385.9 246.1 L392.7 248.6 L391.34 246.1 L392.7 243.6Z" fill="#1f77b4"/>
<line x1="403.9" y1="275.7" x2="387.2" y2="275.7" stroke="#1f77b4" stroke-width="1.1"/>
<path d="M387.2 275.7 L394 278.2 L392.64 275.7 L394 273.2Z" fill="#1f77b4"/>
<line x1="609.3" y1="337.4" x2="627.2" y2="337.4" stroke="#d62728" stroke-width="1.0"/>
<path d="M627.2 337.4 L620 335.1 L621.22 337.4 L620 339.7Z" fill="#d62728"/>
<g transform="translate(407.8,248.6) rotate(-17)">
<text x="0" y="0" font-size="14.4" fill="#1f77b4" text-anchor="start" font-family="Liberation Sans" textLength="27.2" lengthAdjust="spacingAndGlyphs">SFG</text>
</g>
<g transform="translate(408.6,279.2) rotate(-15)">
<text x="0" y="0" font-size="14.4" fill="#1f77b4" text-anchor="start" font-family="Liberation Sans" textLength="27.8" lengthAdjust="spacingAndGlyphs">DFG</text>
</g>
<defs>
<radialGradient id="rodg" gradientUnits="userSpaceOnUse" cx="205" cy="112" r="30" gradientTransform="translate(205 112) scale(4.2 1) translate(-205 -112)">
<stop offset="0" stop-color="#bb8984"/><stop offset="0.45" stop-color="#ad7670"/><stop offset="0.8" stop-color="#a0665f"/><stop offset="1" stop-color="#9a5e57"/>
</radialGradient>
<clipPath id="rodclip"><rect x="54.8" y="89.8" width="262.4" height="46.6" rx="44" ry="23.3"/></clipPath>
</defs>
<rect x="54.8" y="89.8" width="262.4" height="46.6" rx="44" ry="23.3" fill="url(#rodg)"/>
<g clip-path="url(#rodclip)"><rect x="54" y="113.2" width="131.5" height="25" fill="#fff" fill-opacity="0.47"/>
<path d="M62.7 113.2 L185.5 113.2 L185.5 130.1 L97 130.1 C80 129.5 66 124 62.7 113.2 Z" fill="#9c9c9c"/></g>
<line x1="62.7" y1="113.3" x2="185.5" y2="113.3" stroke="#666" stroke-width="0.8"/>
<line x1="185.5" y1="113.2" x2="185.5" y2="148.8" stroke="#888" stroke-width="0.9"/>
<line x1="62.5" y1="113.2" x2="62.5" y2="160.8" stroke="#222" stroke-width="0.8" stroke-dasharray="1 0.8"/>
<line x1="309.1" y1="112.3" x2="309.1" y2="160.8" stroke="#333" stroke-width="0.8" stroke-dasharray="1 0.8"/>
<line x1="76" y1="160.8" x2="296" y2="160.8" stroke="#999" stroke-width="1.3"/>
<path d="M62.4 160.8 L81.6 157.9 L78.53 160.8 L81.6 163.7Z" fill="#111"/>
<path d="M309.3 160.8 L290.1 163.7 L293.17 160.8 L290.1 157.9Z" fill="#111"/>
<line x1="6.7" y1="157.6" x2="6.7" y2="45" stroke="#c62828" stroke-width="1.1"/>
<path d="M6.7 40.6 L9.6 47.8 L6.7 46.36 L3.8 47.8Z" fill="#c62828"/>
<text x="11.2" y="47.6" font-size="16" fill="#c62828" text-anchor="start" font-family="Liberation Serif" font-style="italic">v</text>
<text x="8.3" y="160.4" font-size="14.4" fill="#c62828" text-anchor="start" font-family="Liberation Sans">e</text>
<line x1="16.4" y1="152.2" x2="19.9" y2="152.2" stroke="#c62828" stroke-width="1.1"/>
<path d="M7.19 110.98 L7.27 110.76 L7.34 110.53 L7.42 110.32 L7.49 110.1 L7.57 109.9 L7.64 109.7 L7.72 109.5 L7.79 109.31 L7.86 109.14 L7.94 108.96 L8.01 108.8 L8.09 108.65 L8.16 108.5 L8.24 108.37 L8.31 108.24 L8.39 108.13 L8.46 108.03 L8.54 107.93 L8.61 107.85 L8.69 107.78 L8.76 107.72 L8.84 107.67 L8.91 107.64 L8.99 107.61 L9.06 107.6 L9.14 107.6 L9.21 107.61 L9.29 107.64 L9.36 107.67 L9.44 107.72 L9.51 107.78 L9.59 107.85 L9.66 107.93 L9.74 108.02 L9.81 108.12 L9.89 108.24 L9.96 108.36 L10.04 108.49 L10.11 108.64 L10.19 108.79 L10.26 108.95 L10.33 109.12 L10.41 109.3 L10.48 109.49 L10.56 109.68 L10.63 109.88 L10.71 110.09 L10.78 110.3 L10.86 110.52 L10.93 110.74 L11.01 110.97 L11.08 111.19 L11.16 111.43 L11.23 111.66 L11.31 111.9 L11.38 112.14 L11.46 112.38 L11.53 112.61 L11.61 112.85 L11.68 113.09 L11.76 113.33 L11.83 113.56 L11.91 113.79 L11.98 114.02 L12.06 114.24 L12.13 114.46 L12.21 114.67 L12.28 114.88 L12.36 115.08 L12.43 115.27 L12.51 115.46 L12.58 115.64 L12.66 115.81 L12.73 115.98 L12.8 116.13 L12.88 116.28 L12.95 116.41 L13.03 116.54 L13.1 116.66 L13.18 116.76 L13.25 116.86 L13.33 116.94 L13.4 117.01 L13.48 117.07 L13.55 117.12 L13.63 117.16 L13.7 117.18 L13.78 117.2 L13.85 117.2 L13.93 117.19 L14 117.17 L14.08 117.13 L14.15 117.09 L14.23 117.03 L14.3 116.96 L14.38 116.88 L14.45 116.79 L14.53 116.69 L14.6 116.58 L14.68 116.46 L14.75 116.32 L14.83 116.18 L14.9 116.03 L14.98 115.87 L15.05 115.7 L15.13 115.52 L15.2 115.34 L15.27 115.14 L15.35 114.94 L15.42 114.74 L15.5 114.53 L15.57 114.31 L15.65 114.09 L15.72 113.86 L15.8 113.63 L15.87 113.4 L15.95 113.17 L16.02 112.93 L16.1 112.69 L16.17 112.45 L16.25 112.22 L16.32 111.98 L16.4 111.74 L16.47 111.5 L16.55 111.27 L16.62 111.04 L16.7 110.81 L16.77 110.59 L16.85 110.37 L16.92 110.16 L17 109.95 L17.07 109.75 L17.15 109.55 L17.22 109.36 L17.3 109.18 L17.37 109.01 L17.45 108.84 L17.52 108.69 L17.59 108.54 L17.67 108.4 L17.74 108.28 L17.82 108.16 L17.89 108.05 L17.97 107.96 L18.04 107.87 L18.12 107.8 L18.19 107.74 L18.27 107.69 L18.34 107.65 L18.42 107.62 L18.49 107.6 L18.57 107.6 L18.64 107.61 L18.72 107.63 L18.79 107.66 L18.87 107.7 L18.94 107.76 L19.02 107.83 L19.09 107.91 L19.17 107.99 L19.24 108.1 L19.32 108.21 L19.39 108.33 L19.47 108.46 L19.54 108.6 L19.62 108.75 L19.69 108.91 L19.77 109.08 L19.84 109.25 L19.92 109.44 L19.99 109.63 L20.06 109.83 L20.14 110.03 L20.21 110.24 L20.29 110.46 L20.36 110.68 L20.44 110.91 L20.51 111.14 L20.59 111.37 L20.66 111.6 L20.74 111.84 L20.81 112.08 L20.89 112.31 L20.96 112.55 L21.04 112.79 L21.11 113.03 L21.19 113.27 L21.26 113.5 L21.34 113.73 L21.41 113.96 L21.49 114.18 L21.56 114.4 L21.64 114.62 L21.71 114.83 L21.79 115.03 L21.86 115.22 L21.94 115.41 L22.01 115.6 L22.09 115.77 L22.16 115.94 L22.24 116.09 L22.31 116.24 L22.39 116.38 L22.46 116.51 L22.53 116.63 L22.61 116.73 L22.68 116.83 L22.76 116.92 L22.83 116.99 L22.91 117.06 L22.98 117.11 L23.06 117.15 L23.13 117.18 L23.21 117.19 L23.28 117.2 L23.36 117.19 L23.43 117.17 L23.51 117.14 L23.58 117.1 L23.66 117.05 L23.73 116.98 L23.81 116.91 L23.88 116.82 L23.96 116.72 L24.03 116.61 L24.11 116.49 L24.18 116.36 L24.26 116.22 L24.33 116.07 L24.41 115.91 L24.48 115.74 L24.56 115.57 L24.63 115.38 L24.71 115.19 L24.78 115 L24.86 114.79 L24.93 114.58 L25 114.37 L25.08 114.15 L25.15 113.92 L25.23 113.69 L25.3 113.46 L25.38 113.23 L25.45 112.99 L25.53 112.75 L25.6 112.52 L25.68 112.28 L25.75 112.04 L25.83 111.8 L25.9 111.56 L25.98 111.33 L26.05 111.1 L26.13 110.87 L26.2 110.65 L26.28 110.43 L26.35 110.21 L26.43 110 L26.5 109.8 L26.58 109.6 L26.65 109.41 L26.73 109.23 L26.8 109.05 L26.88 108.88 L26.95 108.73 L27.03 108.58 L27.1 108.44 L27.18 108.31 L27.25 108.19 L27.33 108.08 L27.4 107.98 L27.47 107.89 L27.55 107.82 L27.62 107.75 L27.7 107.7 L27.77 107.66 L27.85 107.62 L27.92 107.61 L28 107.6 L28.07 107.61 L28.15 107.62 L28.22 107.65 L28.3 107.69 L28.37 107.74 L28.45 107.81 L28.52 107.88 L28.6 107.97 L28.67 108.07 L28.75 108.18 L28.82 108.3 L28.9 108.42 L28.97 108.56 L29.05 108.71 L29.12 108.87 L29.2 109.03 L29.27 109.21 L29.35 109.39 L29.42 109.58 L29.5 109.78 L29.57 109.98 L29.65 110.19 L29.72 110.4 L29.8 110.62 L29.87 110.85 L29.94 111.08 L30.02 111.31 L30.09 111.54 L30.17 111.78 L30.24 112.01 L30.32 112.25 L30.39 112.49 L30.47 112.73 L30.54 112.97 L30.62 113.2 L30.69 113.44 L30.77 113.67 L30.84 113.9 L30.92 114.12 L30.99 114.35 L31.07 114.56 L31.14 114.77 L31.22 114.98 L31.29 115.17 L31.37 115.37 L31.44 115.55 L31.52 115.73 L31.59 115.89 L31.67 116.05 L31.74 116.2 L31.82 116.35 L31.89 116.48 L31.97 116.6 L32.04 116.71 L32.12 116.81 L32.19 116.9 L32.27 116.97 L32.34 117.04 L32.41 117.1 L32.49 117.14 L32.56 117.17 L32.64 117.19 L32.71 117.2 L32.79 117.2 L32.86 117.18 L32.94 117.15 L33.01 117.11 L33.09 117.06 L33.16 117 L33.24 116.93 L33.31 116.84 L33.39 116.74 L33.46 116.64 L33.54 116.52 L33.61 116.39 L33.69 116.26 L33.76 116.11 L33.84 115.95 L33.91 115.79 L33.99 115.61 L34.06 115.43 L34.14 115.24 L34.21 115.05 L34.29 114.85 L34.36 114.64 L34.44 114.42 L34.51 114.2 L34.59 113.98 L34.66 113.75 L34.74 113.52 L34.81 113.29 L34.88 113.05 L34.96 112.82 L35.03 112.58 L35.11 112.34 L35.18 112.1 L35.26 111.86 L35.33 111.63 L35.41 111.39 L35.48 111.16 L35.56 110.93 L35.63 110.7 L35.71 110.48 L35.78 110.27 L35.86 110.05 L35.93 109.85 L36.01 109.65 L36.08 109.46 L36.16 109.27 L36.23 109.1 L36.31 108.93 L36.38 108.77 L36.46 108.61 L36.53 108.47 L36.61 108.34 L36.68 108.22 L36.76 108.11 L36.83 108 L36.91 107.91 L36.98 107.83 L37.06 107.77 L37.13 107.71 L37.2 107.66 L37.28 107.63 L37.35 107.61 L37.43 107.6 L37.5 107.6 L37.58 107.62 L37.65 107.64 L37.73 107.68 L37.8 107.73 L37.88 107.79 L37.95 107.86 L38.03 107.95 L38.1 108.04 L38.18 108.15 L38.25 108.26 L38.33 108.39 L38.4 108.53 L38.48 108.67 L38.55 108.83 L38.63 108.99 L38.7 109.16 L38.78 109.34 L38.85 109.53 L38.93 109.73 L39 109.93 L39.08 110.14 L39.15 110.35 L39.23 110.57 L39.3 110.79 L39.38 111.02 L39.45 111.25 L39.53 111.48 L39.6 111.72 L39.67 111.95 L39.75 112.19 L39.82 112.43 L39.9 112.67 L39.97 112.91 L40.05 113.14 L40.12 113.38 L40.2 113.61 L40.27 113.84 L40.35 114.07 L40.42 114.29 L40.5 114.51 L40.57 114.72 L40.65 114.92 L40.72 115.12 L40.8 115.32 L40.87 115.5 L40.95 115.68 L41.02 115.85 L41.1 116.01 L41.17 116.17 L41.25 116.31 L41.32 116.44 L41.4 116.57 L41.47 116.68 L41.55 116.78 L41.62 116.88 L41.7 116.96 L41.77 117.03 L41.85 117.08 L41.92 117.13 L42 117.16 L42.07 117.19 L42.14 117.2 L42.22 117.2 L42.29 117.19 L42.37 117.16 L42.44 117.12 L42.52 117.08 L42.59 117.02 L42.67 116.95 L42.74 116.86 L42.82 116.77 L42.89 116.67 L42.97 116.55 L43.04 116.43 L43.12 116.29 L43.19 116.15 L43.27 115.99 L43.34 115.83 L43.42 115.66 L43.49 115.48 L43.57 115.29 L43.64 115.1 L43.72 114.9 L43.79 114.69 L43.87 114.48 L43.94 114.26 L44.02 114.04 L44.09 113.81 L44.17 113.58 L44.24 113.35 L44.32 113.11 L44.39 112.88 L44.47 112.64 L44.54 112.4" fill="none" stroke="#c62828" stroke-width="1.2" stroke-linejoin="round"/>
<line x1="44.5" y1="112.4" x2="48" y2="112.5" stroke="#c62828" stroke-width="1.2"/>
<path d="M53.5 112.6 L46.5 115.9 L47.48 112.6 L46.5 109.3Z" fill="#c62828"/>
<text x="21.8" y="101.8" font-size="15" fill="#c62828" text-anchor="start" font-family="Liberation Serif" font-style="italic">ω</text>
<line x1="54.4" y1="112.8" x2="54.4" y2="127.2" stroke="#555" stroke-width="0.7"/>
<line x1="11" y1="128.1" x2="50" y2="128.1" stroke="#999" stroke-width="1.2"/>
<path d="M7.3 128.1 L13.7 125.8 L12.1 128.1 L13.7 130.4Z" fill="#111"/>
<path d="M53.1 128.1 L46.7 130.4 L48.3 128.1 L46.7 125.8Z" fill="#111"/>
<text x="26.4" y="142" font-size="16" fill="#000" text-anchor="start" font-family="Liberation Serif" font-style="italic">b</text>
<text x="28.9" y="84.9" font-size="14" fill="#000" text-anchor="start" font-family="Liberation Sans" textLength="43" lengthAdjust="spacingAndGlyphs">retinal</text>
<line x1="54.6" y1="87.2" x2="72" y2="99.5" stroke="#111" stroke-width="0.9"/>
<text x="90" y="126.3" font-size="14" fill="#000" text-anchor="start" font-family="Liberation Sans" textLength="17.2" lengthAdjust="spacingAndGlyphs">Ag</text>
<line x1="139.7" y1="114.5" x2="139.7" y2="128.5" stroke="#111" stroke-width="0.8"/>
<path d="M139.7 112.9 L141.3 116.1 L139.7 115.46 L138.1 116.1Z" fill="#111"/>
<path d="M139.7 129.9 L138.1 126.7 L139.7 127.34 L141.3 126.7Z" fill="#111"/>
<text x="141.4" y="125" font-size="15.5" fill="#000" text-anchor="start" font-family="Liberation Serif" font-style="italic">a</text>
<text x="80.2" y="137.8" font-size="16" fill="#000" text-anchor="start" font-family="Liberation Serif" font-style="italic">t</text>
<line x1="89.6" y1="131.2" x2="89.6" y2="134.2" stroke="#111" stroke-width="0.7"/>
<path d="M89.6 130.2 L90.7 131.8 L89.6 131.48 L88.5 131.8Z" fill="#111"/>
<path d="M89.6 135.2 L88.5 133.6 L89.6 133.92 L90.7 133.6Z" fill="#111"/>
<line x1="113.9" y1="129.4" x2="111.3" y2="139.3" stroke="#222" stroke-width="0.9"/>
<text x="104.3" y="153.8" font-size="16.5" fill="#000" text-anchor="start" font-family="Liberation Serif" font-style="italic">χ</text>
<text x="113.3" y="146.3" font-size="11.5" fill="#000" text-anchor="start" font-family="Liberation Serif" textLength="15" lengthAdjust="spacingAndGlyphs">(2)</text>
<line x1="117.8" y1="151" x2="117.8" y2="158.3" stroke="#222" stroke-width="0.9"/>
<line x1="113.9" y1="158.4" x2="121.7" y2="158.4" stroke="#222" stroke-width="0.9"/>
<line x1="127.3" y1="151" x2="127.3" y2="158.3" stroke="#222" stroke-width="0.9"/>
<line x1="123.4" y1="158.4" x2="131.2" y2="158.4" stroke="#222" stroke-width="0.9"/>
<line x1="137.2" y1="151" x2="137.2" y2="158.3" stroke="#222" stroke-width="0.9"/>
<line x1="133.3" y1="158.4" x2="141.1" y2="158.4" stroke="#222" stroke-width="0.9"/>
<text x="187.4" y="158" font-size="16.5" fill="#000" text-anchor="start" font-family="Liberation Serif" font-style="italic">L</text>
<path d="M128.24 37.5 L128.42 37.59 L128.6 37.67 L128.78 37.76 L128.96 37.85 L129.14 37.93 L129.31 38.02 L129.48 38.11 L129.64 38.19 L129.8 38.28 L129.96 38.37 L130.11 38.45 L130.25 38.54 L130.4 38.62 L130.53 38.71 L130.67 38.8 L130.79 38.88 L130.91 38.97 L131.03 39.06 L131.14 39.14 L131.24 39.23 L131.34 39.32 L131.43 39.4 L131.52 39.49 L131.59 39.58 L131.67 39.66 L131.73 39.75 L131.79 39.84 L131.84 39.92 L131.88 40.01 L131.92 40.09 L131.95 40.18 L131.97 40.27 L131.99 40.35 L132 40.44 L132 40.53 L131.99 40.61 L131.98 40.7 L131.96 40.79 L131.93 40.87 L131.9 40.96 L131.86 41.05 L131.81 41.13 L131.75 41.22 L131.69 41.31 L131.62 41.39 L131.55 41.48 L131.46 41.56 L131.37 41.65 L131.28 41.74 L131.18 41.82 L131.07 41.91 L130.96 42 L130.84 42.08 L130.71 42.17 L130.58 42.26 L130.45 42.34 L130.31 42.43 L130.16 42.52 L130.01 42.6 L129.86 42.69 L129.7 42.78 L129.54 42.86 L129.37 42.95 L129.2 43.03 L129.03 43.12 L128.85 43.21 L128.67 43.29 L128.49 43.38 L128.31 43.47 L128.12 43.55 L127.93 43.64 L127.74 43.73 L127.55 43.81 L127.36 43.9 L127.17 43.99 L126.97 44.07 L126.78 44.16 L126.59 44.25 L126.39 44.33 L126.2 44.42 L126.01 44.5 L125.82 44.59 L125.63 44.68 L125.44 44.76 L125.26 44.85 L125.07 44.94 L124.89 45.02 L124.71 45.11 L124.54 45.2 L124.36 45.28 L124.19 45.37 L124.03 45.46 L123.87 45.54 L123.71 45.63 L123.56 45.72 L123.41 45.8 L123.26 45.89 L123.12 45.97 L122.99 46.06 L122.86 46.15 L122.74 46.23 L122.62 46.32 L122.51 46.41 L122.4 46.49 L122.3 46.58 L122.21 46.67 L122.12 46.75 L122.04 46.84 L121.96 46.93 L121.9 47.01 L121.83 47.1 L121.78 47.19 L121.73 47.27 L121.69 47.36 L121.66 47.44 L121.63 47.53 L121.62 47.62 L121.6 47.7 L121.6 47.79 L121.6 47.88 L121.61 47.96 L121.63 48.05 L121.65 48.14 L121.69 48.22 L121.72 48.31 L121.77 48.4 L121.82 48.48 L121.88 48.57 L121.95 48.66 L122.02 48.74 L122.1 48.83 L122.19 48.91 L122.28 49 L122.38 49.09 L122.48 49.17 L122.59 49.26 L122.71 49.35 L122.83 49.43 L122.96 49.52 L123.09 49.61 L123.23 49.69 L123.38 49.78 L123.52 49.87 L123.68 49.95 L123.83 50.04 L123.99 50.13 L124.16 50.21 L124.33 50.3 L124.5 50.38 L124.67 50.47 L124.85 50.56 L125.03 50.64 L125.22 50.73 L125.4 50.82 L125.59 50.9 L125.78 50.99 L125.97 51.08 L126.16 51.16 L126.35 51.25 L126.55 51.34 L126.74 51.42 L126.93 51.51 L127.13 51.6 L127.32 51.68 L127.51 51.77 L127.7 51.85 L127.89 51.94 L128.08 52.03 L128.27 52.11 L128.45 52.2 L128.63 52.29 L128.81 52.37 L128.99 52.46 L129.16 52.55 L129.33 52.63 L129.5 52.72 L129.67 52.81 L129.82 52.89 L129.98 52.98 L130.13 53.07 L130.28 53.15 L130.42 53.24 L130.56 53.32 L130.69 53.41 L130.81 53.5 L130.93 53.58 L131.05 53.67 L131.16 53.76 L131.26 53.84 L131.35 53.93 L131.45 54.02 L131.53 54.1 L131.61 54.19 L131.68 54.28 L131.74 54.36 L131.8 54.45 L131.85 54.54 L131.89 54.62 L131.93 54.71 L131.96 54.79 L131.98 54.88 L131.99 54.97 L132 55.05 L132 55.14 L131.99 55.23 L131.98 55.31 L131.96 55.4 L131.93 55.49 L131.89 55.57 L131.85 55.66 L131.8 55.75 L131.74 55.83 L131.68 55.92 L131.61 56.01 L131.53 56.09 L131.45 56.18 L131.36 56.26 L131.26 56.35 L131.16 56.44 L131.05 56.52 L130.94 56.61 L130.82 56.7 L130.69 56.78 L130.56 56.87 L130.43 56.96 L130.29 57.04 L130.14 57.13 L129.99 57.22 L129.83 57.3 L129.67 57.39 L129.51 57.48 L129.34 57.56 L129.17 57.65 L129 57.74 L128.82 57.82 L128.64 57.91 L128.46 57.99 L128.28 58.08 L128.09 58.17 L127.9 58.25 L127.71 58.34 L127.52 58.43 L127.33 58.51 L127.14 58.6 L126.94 58.69 L126.75 58.77 L126.56 58.86 L126.36 58.95 L126.17 59.03 L125.98 59.12 L125.79 59.21 L125.6 59.29 L125.41 59.38 L125.23 59.46 L125.04 59.55 L124.86 59.64 L124.68 59.72 L124.51 59.81 L124.34 59.9 L124.17 59.98 L124 60.07 L123.84 60.16 L123.68 60.24 L123.53 60.33 L123.38 60.42 L123.24 60.5 L123.1 60.59 L122.97 60.68 L122.84 60.76 L122.72 60.85 L122.6 60.93 L122.49 61.02 L122.38 61.11 L122.28 61.19 L122.19 61.28 L122.11 61.37 L122.03 61.45 L121.95 61.54 L121.89 61.63 L121.83 61.71 L121.77 61.8 L121.73 61.89 L121.69 61.97 L121.66 62.06 L121.63 62.15 L121.61 62.23 L121.6 62.32 L121.6 62.4 L121.6 62.49 L121.62 62.58 L121.63 62.66 L121.66 62.75 L121.69 62.84 L121.73 62.92 L121.78 63.01 L121.83 63.1 L121.89 63.18 L121.96 63.27 L122.03 63.36 L122.11 63.44 L122.2 63.53 L122.29 63.62 L122.39 63.7 L122.5 63.79 L122.61 63.87 L122.73 63.96 L122.85 64.05 L122.98 64.13 L123.12 64.22 L123.25 64.31 L123.4 64.39 L123.55 64.48 L123.7 64.57 L123.86 64.65 L124.02 64.74 L124.19 64.83 L124.35 64.91 L124.53 65 L124.7 65.09 L124.88 65.17 L125.06 65.26 L125.25 65.34 L125.43 65.43 L125.62 65.52 L125.81 65.6 L126 65.69 L126.19 65.78 L126.38 65.86 L126.58 65.95 L126.77 66.04 L126.96 66.12 L127.16 66.21 L127.35 66.3 L127.54 66.38 L127.73 66.47 L127.92 66.56 L128.11 66.64 L128.3 66.73 L128.48 66.81 L128.66 66.9 L128.84 66.99 L129.02 67.07 L129.19 67.16 L129.36 67.25 L129.53 67.33 L129.69 67.42 L129.85 67.51 L130 67.59 L130.15 67.68 L130.3 67.77 L130.44 67.85 L130.58 67.94 L130.71 68.03 L130.83 68.11 L130.95 68.2 L131.06 68.28 L131.17 68.37 L131.27 68.46 L131.37 68.54 L131.46 68.63 L131.54 68.72 L131.62 68.8 L131.69 68.89 L131.75 68.98 L131.81 69.06 L131.85 69.15 L131.9 69.24 L131.93 69.32 L131.96 69.41 L131.98 69.5 L131.99 69.58 L132 69.67 L132 69.75 L131.99 69.84 L131.98 69.93 L131.95 70.01 L131.92 70.1 L131.89 70.19 L131.84 70.27 L131.79 70.36 L131.73 70.45 L131.67 70.53 L131.6 70.62 L131.52 70.71 L131.44 70.79 L131.35 70.88 L131.25 70.97 L131.14 71.05 L131.04 71.14 L130.92 71.22 L130.8 71.31 L130.67 71.4 L130.54 71.48 L130.4 71.57 L130.26 71.66 L130.12 71.74 L129.96 71.83 L129.81 71.92 L129.65 72 L129.48 72.09 L129.32 72.18 L129.15 72.26 L128.97 72.35 L128.79 72.44 L128.61 72.52 L128.43 72.61 L128.25 72.69 L128.06 72.78 L127.87 72.87 L127.68 72.95 L127.49 73.04 L127.3 73.13 L127.11 73.21 L126.91 73.3 L126.72 73.39 L126.53 73.47 L126.33 73.56 L126.14 73.65 L125.95 73.73 L125.76 73.82 L125.57 73.91 L125.38 73.99 L125.2 74.08 L125.01 74.16 L124.83 74.25 L124.66 74.34 L124.48 74.42 L124.31 74.51 L124.14 74.6 L123.98 74.68 L123.82 74.77 L123.66 74.86 L123.51 74.94 L123.36 75.03 L123.22 75.12 L123.08 75.2 L122.95 75.29 L122.82 75.38 L122.7 75.46 L122.58 75.55 L122.47 75.63 L122.37 75.72 L122.27 75.81 L122.18 75.89 L122.09 75.98 L122.01 76.07 L121.94 76.15 L121.88 76.24 L121.82 76.33 L121.77 76.41 L121.72 76.5 L121.68 76.59 L121.65 76.67 L121.63 76.76 L121.61 76.85 L121.6 76.93 L121.6 77.02 L121.61 77.1 L121.62 77.19 L121.64 77.28 L121.66 77.36 L121.7 77.45 L121.74 77.54 L121.79 77.62 L121.84 77.71 L121.9 77.8 L121.97 77.88 L122.05 77.97 L122.13 78.06 L122.22 78.14 L122.31 78.23 L122.41 78.32 L122.52 78.4 L122.63 78.49 L122.75 78.57 L122.87 78.66 L123 78.75 L123.14 78.83 L123.28 78.92 L123.42 79.01 L123.57 79.09 L123.73 79.18 L123.88 79.27 L124.05 79.35 L124.21 79.44 L124.38 79.53 L124.55 79.61 L124.73 79.7 L124.91 79.79 L125.09 79.87 L125.27 79.96 L125.46 80.04 L125.65 80.13 L125.84 80.22 L126.03 80.3 L126.22 80.39 L126.41 80.48 L126.61 80.56 L126.8 80.65" fill="none" stroke="#1e5ea6" stroke-width="1.2" stroke-linejoin="round"/>
<path d="M128 87.8 L123.69 81.27 L127.35 82.38 L130.64 80.43Z" fill="#1e5ea6"/>
<line x1="113.3" y1="72.8" x2="139" y2="72.8" stroke="#1e5ea6" stroke-width="1.0"/>
<path d="M143.8 72.8 L137.8 75.1 L139.3 72.8 L137.8 70.5Z" fill="#1e5ea6"/>
<text x="106.8" y="32.8" font-size="14.8" fill="#1e5ea6" text-anchor="start" font-family="Liberation Serif" textLength="10.2" lengthAdjust="spacingAndGlyphs" font-weight="bold">E</text>
<text x="117.1" y="36.2" font-size="12.3" fill="#1e5ea6" text-anchor="start" font-family="Liberation Serif" textLength="32.5" lengthAdjust="spacingAndGlyphs">pump</text>
<text x="136.2" y="60.8" font-size="15.5" fill="#1e5ea6" text-anchor="start" font-family="Liberation Serif" textLength="9.8" lengthAdjust="spacingAndGlyphs" font-style="italic">ω</text>
<text x="146" y="63.8" font-size="12.3" fill="#1e5ea6" text-anchor="start" font-family="Liberation Serif" textLength="31.5" lengthAdjust="spacingAndGlyphs">pump</text>
<path d="M222.69 85.96 L222.92 86 L223.16 86.05 L223.39 86.1 L223.63 86.15 L223.87 86.2 L224.11 86.25 L224.35 86.31 L224.59 86.36 L224.84 86.41 L225.08 86.46 L225.32 86.52 L225.56 86.57 L225.79 86.62 L226.03 86.67 L226.26 86.71 L226.49 86.76 L226.72 86.8 L226.94 86.84 L227.16 86.88 L227.38 86.92 L227.59 86.95 L227.8 86.98 L228 87.01 L228.19 87.03 L228.38 87.05 L228.56 87.06 L228.74 87.07 L228.91 87.08 L229.07 87.08 L229.23 87.08 L229.37 87.08 L229.51 87.06 L229.65 87.05 L229.77 87.03 L229.89 87 L229.99 86.97 L230.09 86.93 L230.18 86.89 L230.26 86.84 L230.34 86.79 L230.4 86.73 L230.46 86.66 L230.5 86.59 L230.54 86.52 L230.57 86.43 L230.59 86.35 L230.6 86.25 L230.6 86.16 L230.6 86.05 L230.58 85.94 L230.56 85.83 L230.52 85.71 L230.48 85.58 L230.44 85.45 L230.38 85.32 L230.32 85.18 L230.24 85.04 L230.17 84.89 L230.08 84.73 L229.99 84.58 L229.89 84.41 L229.79 84.25 L229.68 84.08 L229.56 83.91 L229.44 83.73 L229.31 83.55 L229.18 83.37 L229.05 83.19 L228.91 83 L228.77 82.81 L228.62 82.62 L228.47 82.43 L228.32 82.23 L228.17 82.04 L228.01 81.84 L227.86 81.64 L227.7 81.45 L227.55 81.25 L227.39 81.05 L227.23 80.85 L227.08 80.66 L226.93 80.46 L226.77 80.26 L226.62 80.07 L226.47 79.88 L226.33 79.69 L226.19 79.5 L226.05 79.31 L225.91 79.13 L225.78 78.94 L225.66 78.77 L225.54 78.59 L225.42 78.42 L225.31 78.25 L225.2 78.08 L225.11 77.92 L225.01 77.76 L224.93 77.61 L224.85 77.46 L224.78 77.32 L224.72 77.18 L224.66 77.04 L224.61 76.92 L224.57 76.79 L224.54 76.67 L224.52 76.56 L224.5 76.45 L224.5 76.34 L224.5 76.25 L224.51 76.15 L224.53 76.07 L224.56 75.98 L224.6 75.91 L224.64 75.84 L224.7 75.77 L224.76 75.71 L224.84 75.66 L224.92 75.61 L225.01 75.57 L225.11 75.53 L225.21 75.5 L225.33 75.48 L225.46 75.45 L225.59 75.44 L225.73 75.43 L225.88 75.42 L226.03 75.42 L226.19 75.42 L226.36 75.43 L226.54 75.44 L226.72 75.45 L226.91 75.47 L227.11 75.5 L227.31 75.52 L227.51 75.55 L227.72 75.59 L227.94 75.62 L228.16 75.66 L228.38 75.7 L228.61 75.75 L228.84 75.79 L229.07 75.84 L229.31 75.89 L229.55 75.94 L229.79 75.99 L230.03 76.04 L230.27 76.09 L230.51 76.14 L230.75 76.2 L230.99 76.25 L231.23 76.3 L231.47 76.35 L231.71 76.4 L231.95 76.45 L232.18 76.5 L232.41 76.55 L232.64 76.59 L232.87 76.63 L233.09 76.67 L233.3 76.71 L233.52 76.74 L233.72 76.77 L233.93 76.8 L234.12 76.82 L234.31 76.84 L234.5 76.86 L234.68 76.87 L234.85 76.88 L235.01 76.89 L235.17 76.89 L235.32 76.88 L235.47 76.87 L235.6 76.86 L235.73 76.84 L235.85 76.81 L235.96 76.78 L236.06 76.75 L236.15 76.71 L236.24 76.66 L236.31 76.61 L236.38 76.55 L236.44 76.49 L236.49 76.42 L236.53 76.34 L236.56 76.26 L236.58 76.18 L236.6 76.09 L236.6 75.99 L236.6 75.89 L236.58 75.78 L236.56 75.67 L236.53 75.55 L236.5 75.43 L236.45 75.3 L236.4 75.17 L236.34 75.03 L236.27 74.89 L236.19 74.74 L236.11 74.59 L236.02 74.43 L235.92 74.27 L235.82 74.11 L235.71 73.94 L235.6 73.77 L235.48 73.59 L235.35 73.42 L235.22 73.24 L235.09 73.05 L234.95 72.87 L234.81 72.68 L234.67 72.49 L234.52 72.3 L234.37 72.1 L234.22 71.91 L234.06 71.71 L233.91 71.51 L233.75 71.32 L233.6 71.12 L233.44 70.92 L233.28 70.72 L233.13 70.52 L232.97 70.33 L232.82 70.13 L232.67 69.94 L232.52 69.74 L232.38 69.55 L232.23 69.36 L232.09 69.18 L231.96 68.99 L231.82 68.81 L231.7 68.63 L231.57 68.45 L231.46 68.28 L231.34 68.11 L231.24 67.94 L231.14 67.78 L231.04 67.62 L230.96 67.47 L230.87 67.32 L230.8 67.17 L230.74 67.03 L230.68 66.89 L230.63 66.76 L230.58 66.63 L230.55 66.51 L230.52 66.4 L230.5 66.29 L230.49 66.18 L230.49 66.08 L230.5 65.99 L230.52 65.9 L230.54 65.81 L230.58 65.74 L230.62 65.66 L230.68 65.6 L230.74 65.54 L230.81 65.48 L230.89 65.43 L230.97 65.39 L231.07 65.35 L231.18 65.31 L231.29 65.29 L231.41 65.26 L231.54 65.25 L231.68 65.23 L231.82 65.22 L231.98 65.22 L232.14 65.22 L232.3 65.23 L232.48 65.24 L232.66 65.25 L232.85 65.27 L233.04 65.29 L233.24 65.32 L233.44 65.35 L233.65 65.38 L233.86 65.41 L234.08 65.45 L234.3 65.49 L234.53 65.53 L234.76 65.58 L234.99 65.62 L235.23 65.67 L235.46 65.72 L235.7 65.77 L235.94 65.82 L236.18 65.88 L236.43 65.93 L236.67 65.98 L236.91 66.03 L237.15 66.09 L237.39 66.14 L237.63 66.19 L237.87 66.24 L238.1 66.29 L238.33 66.33 L238.56 66.38 L238.79 66.42 L239.01 66.46 L239.23 66.5 L239.44 66.53 L239.65 66.56 L239.86 66.59 L240.06 66.62 L240.25 66.64 L240.44 66.66 L240.62 66.67 L240.79 66.68 L240.96 66.69 L241.12 66.69 L241.27 66.69 L241.42 66.68 L241.55 66.66 L241.68 66.65 L241.8 66.62 L241.92 66.6 L242.02 66.56 L242.12 66.52 L242.21 66.48 L242.29 66.43 L242.36 66.37 L242.42 66.31 L242.47 66.25 L242.51 66.17 L242.55 66.1 L242.57 66.01 L242.59 65.92 L242.6 65.83 L242.6 65.73 L242.59 65.62 L242.57 65.51 L242.54 65.4 L242.51 65.27 L242.46 65.15 L242.41 65.02 L242.36 64.88 L242.29 64.74 L242.22 64.59 L242.13 64.44 L242.05 64.29 L241.95 64.13 L241.85 63.97 L241.75 63.8 L241.63 63.63 L241.52 63.46 L241.39 63.28 L241.27 63.1 L241.13 62.92 L241 62.73 L240.86 62.54 L240.71 62.35 L240.57 62.16 L240.42 61.97 L240.27 61.77 L240.11 61.58 L239.96 61.38 L239.8 61.19 L239.65 60.99 L239.49 60.79 L239.34 60.59 L239.18 60.39 L239.02 60.2 L238.87 60 L238.72 59.81 L238.57 59.61 L238.42 59.42 L238.28 59.23 L238.14 59.04 L238 58.86 L237.87 58.67 L237.74 58.49 L237.61 58.31 L237.49 58.14 L237.38 57.97 L237.27 57.8 L237.17 57.64 L237.07 57.48 L236.98 57.32 L236.9 57.17 L236.82 57.02 L236.75 56.88 L236.69 56.74 L236.64 56.61 L236.59 56.48 L236.56 56.36 L236.53 56.24 L236.51 56.13 L236.49 56.02 L236.49 55.92 L236.5 55.82 L236.51 55.73 L236.53 55.64 L236.56 55.56 L236.61 55.49 L236.65 55.42 L236.71 55.36 L236.78 55.3 L236.86 55.25 L236.94 55.2 L237.03 55.16 L237.14 55.13 L237.25 55.1 L237.37 55.07 L237.49 55.05 L237.63 55.04 L237.77 55.03 L237.92 55.02 L238.08 55.02 L238.24 55.03 L238.42 55.04 L238.59 55.05 L238.78 55.07 L238.97 55.09 L239.17 55.11 L239.37 55.14 L239.58 55.17 L239.79 55.2 L240.01 55.24 L240.23 55.28 L240.45 55.32 L240.68 55.37 L240.91 55.41 L241.15 55.46 L241.38 55.51 L241.62 55.56 L241.86 55.61 L242.1 55.66 L242.34 55.71 L242.58 55.77 L242.83 55.82 L243.07 55.87 L243.31 55.92 L243.55 55.97 L243.78 56.02 L244.02 56.07 L244.25 56.12 L244.48 56.16 L244.71 56.21 L244.93 56.25 L245.15 56.29 L245.37 56.32 L245.58 56.36 L245.79 56.39 L245.99 56.41 L246.18 56.44 L246.37 56.46 L246.55 56.47 L246.73 56.48 L246.9 56.49 L247.06 56.49 L247.22 56.49 L247.37 56.48 L247.51 56.47 L247.64 56.46 L247.76 56.43 L247.88 56.41 L247.99 56.38 L248.08 56.34 L248.18 56.3 L248.26 56.25 L248.33 56.19 L248.39 56.14 L248.45 56.07 L248.5 56 L248.53 55.92 L248.56 55.84 L248.58 55.76 L248.59 55.66 L248.6 55.56 L248.59 55.46 L248.57 55.35 L248.55 55.24 L248.52 55.12 L248.48 54.99 L248.43 54.86 L248.37 54.73 L248.31 54.59 L248.24 54.44 L248.16 54.3 L248.08 54.14 L247.98 53.99 L247.89 53.82 L247.78 53.66 L247.67 53.49 L247.55 53.32 L247.43 53.14 L247.31 52.96 L247.18 52.78 L247.04 52.6 L246.9 52.41 L246.76 52.22 L246.62 52.03 L246.47 51.84 L246.32 51.64 L246.16 51.45 L246.01 51.25 L245.85 51.05 L245.7 50.86 L245.54 50.66" fill="none" stroke="#b32fd9" stroke-width="1.2" stroke-linejoin="round"/>
<path d="M249.29 44.28 L248.33 53.22 L246.3 49.37 L241.95 49.47Z" fill="#b32fd9"/>
<text x="187.3" y="38.6" font-size="16" fill="#b32fd9" text-anchor="start" font-family="Liberation Serif" textLength="130" lengthAdjust="spacingAndGlyphs" font-style="italic">ω<tspan font-size="12.3" dy="2" font-style="normal">WM</tspan><tspan dy="-2" font-style="normal"> = </tspan>ω<tspan font-size="12.3" dy="2" font-style="normal">pump</tspan><tspan dy="-2" font-style="normal"> ± </tspan>ω</text>
<text x="57.6" y="15.9" font-size="14.4" fill="#000" text-anchor="start" font-family="Liberation Sans" textLength="9.2" lengthAdjust="spacingAndGlyphs" font-weight="bold">a</text>
</svg></body></html>
